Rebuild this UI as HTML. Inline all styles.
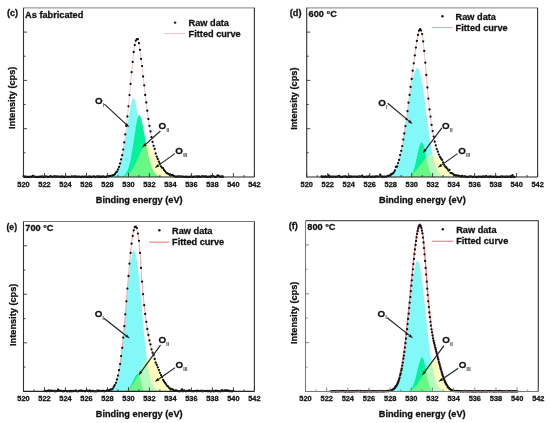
<!DOCTYPE html>
<html><head><meta charset="utf-8"><style>
html,body{margin:0;padding:0;background:#fff;overflow:hidden;width:550px;height:423px;}
svg{display:block;will-change:transform;font-family:"Liberation Sans", sans-serif;}
text{stroke:#111;stroke-width:0.28px;}
</style></head><body>
<svg width="550" height="423" viewBox="0 0 550 423" font-family="Liberation Sans, sans-serif" fill="#111">
<rect x="0" y="0" width="550" height="423" fill="#fff"/>
<path d="M105.0,177.0 L105.0,176.94 L105.5,176.93 L106.0,176.91 L106.5,176.89 L107.0,176.86 L107.5,176.83 L108.0,176.79 L108.5,176.74 L109.0,176.68 L109.5,176.60 L110.0,176.51 L110.5,176.41 L111.0,176.28 L111.5,176.13 L112.0,175.95 L112.5,175.75 L113.0,175.50 L113.5,175.21 L114.0,174.88 L114.5,174.49 L115.0,174.04 L115.5,173.52 L116.0,172.93 L116.5,172.25 L117.0,171.49 L117.5,170.62 L118.0,169.64 L118.5,168.55 L119.0,167.34 L119.5,165.99 L120.0,164.49 L120.5,162.86 L121.0,161.07 L121.5,159.12 L122.0,157.02 L122.5,154.75 L123.0,152.33 L123.5,149.76 L124.0,147.03 L124.5,144.17 L125.0,141.19 L125.5,138.09 L126.0,134.91 L126.5,131.65 L127.0,128.36 L127.5,125.05 L128.0,121.76 L128.5,118.52 L129.0,115.37 L129.5,112.34 L130.0,109.49 L130.5,106.84 L131.0,104.45 L131.5,102.35 L132.0,100.59 L132.5,99.21 L133.0,98.26 L133.5,97.80 L134.0,98.07 L134.5,99.10 L135.0,100.75 L135.5,102.94 L136.0,105.58 L136.5,108.61 L137.0,111.96 L137.5,115.56 L138.0,119.34 L138.5,123.22 L139.0,127.16 L139.5,131.10 L140.0,134.98 L140.5,138.77 L141.0,142.42 L141.5,145.91 L142.0,149.20 L142.5,152.29 L143.0,155.16 L143.5,157.81 L144.0,160.23 L144.5,162.43 L145.0,164.41 L145.5,166.18 L146.0,167.75 L146.5,169.14 L147.0,170.35 L147.5,171.41 L148.0,172.32 L148.5,173.11 L149.0,173.78 L149.5,174.35 L150.0,174.83 L150.5,175.23 L151.0,175.56 L151.5,175.84 L152.0,176.07 L152.5,176.26 L153.0,176.41 L153.5,176.53 L154.0,176.63 L154.5,176.71 L155.0,176.78 L155.5,176.83 L156.0,176.87 L156.5,176.90 L157.0,176.92 L157.5,176.94 L157.5,177.0 Z" fill="rgb(130,248,248)"/>
<path d="M117.5,177.0 L117.5,176.95 L118.0,176.93 L118.5,176.90 L119.0,176.87 L119.5,176.83 L120.0,176.77 L120.5,176.71 L121.0,176.62 L121.5,176.51 L122.0,176.37 L122.5,176.19 L123.0,175.97 L123.5,175.71 L124.0,175.38 L124.5,174.98 L125.0,174.50 L125.5,173.93 L126.0,173.25 L126.5,172.45 L127.0,171.51 L127.5,170.42 L128.0,169.16 L128.5,167.72 L129.0,166.10 L129.5,164.27 L130.0,162.23 L130.5,159.98 L131.0,157.52 L131.5,154.85 L132.0,152.00 L132.5,148.97 L133.0,145.80 L133.5,142.51 L134.0,139.15 L134.5,135.78 L135.0,132.43 L135.5,129.17 L136.0,126.08 L136.5,123.21 L137.0,120.64 L137.5,118.45 L138.0,116.70 L138.5,115.49 L139.0,114.89 L139.5,115.04 L140.0,115.69 L140.5,116.76 L141.0,118.18 L141.5,119.91 L142.0,121.92 L142.5,124.15 L143.0,126.57 L143.5,129.14 L144.0,131.82 L144.5,134.57 L145.0,137.35 L145.5,140.14 L146.0,142.90 L146.5,145.61 L147.0,148.25 L147.5,150.79 L148.0,153.22 L148.5,155.53 L149.0,157.70 L149.5,159.73 L150.0,161.62 L150.5,163.37 L151.0,164.97 L151.5,166.44 L152.0,167.76 L152.5,168.96 L153.0,170.03 L153.5,170.98 L154.0,171.83 L154.5,172.58 L155.0,173.23 L155.5,173.81 L156.0,174.30 L156.5,174.73 L157.0,175.10 L157.5,175.42 L158.0,175.69 L158.5,175.91 L159.0,176.11 L159.5,176.27 L160.0,176.40 L160.5,176.51 L161.0,176.61 L161.5,176.68 L162.0,176.74 L162.5,176.80 L163.0,176.84 L163.5,176.87 L164.0,176.90 L164.5,176.92 L165.0,176.94 L165.0,177.0 Z" fill="rgb(5,242,155)"/>
<path d="M115.0,177.0 L115.0,176.95 L115.5,176.94 L116.0,176.92 L116.5,176.91 L117.0,176.89 L117.5,176.87 L118.0,176.84 L118.5,176.81 L119.0,176.78 L119.5,176.74 L120.0,176.69 L120.5,176.64 L121.0,176.57 L121.5,176.50 L122.0,176.42 L122.5,176.33 L123.0,176.22 L123.5,176.10 L124.0,175.96 L124.5,175.80 L125.0,175.62 L125.5,175.43 L126.0,175.20 L126.5,174.95 L127.0,174.68 L127.5,174.37 L128.0,174.03 L128.5,173.66 L129.0,173.25 L129.5,172.80 L130.0,172.31 L130.5,171.78 L131.0,171.20 L131.5,170.58 L132.0,169.91 L132.5,169.19 L133.0,168.42 L133.5,167.61 L134.0,166.75 L134.5,165.84 L135.0,164.89 L135.5,163.89 L136.0,162.86 L136.5,161.79 L137.0,160.69 L137.5,159.56 L138.0,158.41 L138.5,157.24 L139.0,156.07 L139.5,154.89 L140.0,153.73 L140.5,152.58 L141.0,151.46 L141.5,150.37 L142.0,149.34 L142.5,148.36 L143.0,147.44 L143.5,146.61 L144.0,145.87 L144.5,145.23 L145.0,144.70 L145.5,144.29 L146.0,144.02 L146.5,143.91 L147.0,143.99 L147.5,144.18 L148.0,144.48 L148.5,144.88 L149.0,145.37 L149.5,145.93 L150.0,146.57 L150.5,147.28 L151.0,148.05 L151.5,148.87 L152.0,149.73 L152.5,150.64 L153.0,151.57 L153.5,152.54 L154.0,153.52 L154.5,154.52 L155.0,155.52 L155.5,156.53 L156.0,157.54 L156.5,158.54 L157.0,159.52 L157.5,160.50 L158.0,161.45 L158.5,162.38 L159.0,163.28 L159.5,164.16 L160.0,165.01 L160.5,165.82 L161.0,166.61 L161.5,167.35 L162.0,168.07 L162.5,168.75 L163.0,169.39 L163.5,170.00 L164.0,170.57 L164.5,171.11 L165.0,171.61 L165.5,172.08 L166.0,172.52 L166.5,172.93 L167.0,173.31 L167.5,173.66 L168.0,173.98 L168.5,174.28 L169.0,174.55 L169.5,174.80 L170.0,175.03 L170.5,175.24 L171.0,175.43 L171.5,175.60 L172.0,175.75 L172.5,175.89 L173.0,176.02 L173.5,176.13 L174.0,176.24 L174.5,176.33 L175.0,176.41 L175.5,176.48 L176.0,176.55 L176.5,176.60 L177.0,176.65 L177.5,176.70 L178.0,176.74 L178.5,176.77 L179.0,176.80 L179.5,176.83 L180.0,176.85 L180.5,176.87 L181.0,176.89 L181.5,176.91 L182.0,176.92 L182.5,176.93 L183.0,176.94 L183.0,177.0 Z" fill="rgba(255,255,100,0.4)"/>
<path d="M23.5,177.00 L24.0,177.00 L24.5,177.00 L25.0,177.00 L25.5,177.00 L26.0,177.00 L26.5,177.00 L27.0,177.00 L27.5,177.00 L28.0,177.00 L28.5,177.00 L29.0,177.00 L29.5,177.00 L30.0,177.00 L30.5,177.00 L31.0,177.00 L31.5,177.00 L32.0,177.00 L32.5,177.00 L33.0,177.00 L33.5,177.00 L34.0,177.00 L34.5,177.00 L35.0,177.00 L35.5,177.00 L36.0,177.00 L36.5,177.00 L37.0,177.00 L37.5,177.00 L38.0,177.00 L38.5,177.00 L39.0,177.00 L39.5,177.00 L40.0,177.00 L40.5,177.00 L41.0,177.00 L41.5,177.00 L42.0,177.00 L42.5,177.00 L43.0,177.00 L43.5,177.00 L44.0,177.00 L44.5,177.00 L45.0,177.00 L45.5,177.00 L46.0,177.00 L46.5,177.00 L47.0,177.00 L47.5,177.00 L48.0,177.00 L48.5,177.00 L49.0,177.00 L49.5,177.00 L50.0,177.00 L50.5,177.00 L51.0,177.00 L51.5,177.00 L52.0,177.00 L52.5,177.00 L53.0,177.00 L53.5,177.00 L54.0,177.00 L54.5,177.00 L55.0,177.00 L55.5,177.00 L56.0,177.00 L56.5,177.00 L57.0,177.00 L57.5,177.00 L58.0,177.00 L58.5,177.00 L59.0,177.00 L59.5,177.00 L60.0,177.00 L60.5,177.00 L61.0,177.00 L61.5,177.00 L62.0,177.00 L62.5,177.00 L63.0,177.00 L63.5,177.00 L64.0,177.00 L64.5,177.00 L65.0,177.00 L65.5,177.00 L66.0,177.00 L66.5,177.00 L67.0,177.00 L67.5,177.00 L68.0,177.00 L68.5,177.00 L69.0,177.00 L69.5,177.00 L70.0,177.00 L70.5,177.00 L71.0,177.00 L71.5,177.00 L72.0,177.00 L72.5,177.00 L73.0,177.00 L73.5,177.00 L74.0,177.00 L74.5,177.00 L75.0,177.00 L75.5,177.00 L76.0,177.00 L76.5,177.00 L77.0,177.00 L77.5,177.00 L78.0,177.00 L78.5,177.00 L79.0,177.00 L79.5,177.00 L80.0,177.00 L80.5,177.00 L81.0,177.00 L81.5,177.00 L82.0,177.00 L82.5,177.00 L83.0,177.00 L83.5,177.00 L84.0,177.00 L84.5,177.00 L85.0,177.00 L85.5,177.00 L86.0,177.00 L86.5,177.00 L87.0,177.00 L87.5,177.00 L88.0,177.00 L88.5,177.00 L89.0,177.00 L89.5,177.00 L90.0,177.00 L90.5,177.00 L91.0,177.00 L91.5,177.00 L92.0,177.00 L92.5,177.00 L93.0,177.00 L93.5,177.00 L94.0,177.00 L94.5,177.00 L95.0,177.00 L95.5,177.00 L96.0,177.00 L96.5,177.00 L97.0,177.00 L97.5,177.00 L98.0,177.00 L98.5,177.00 L99.0,177.00 L99.5,177.00 L100.0,177.00 L100.5,176.99 L101.0,176.99 L101.5,176.99 L102.0,176.99 L102.5,176.98 L103.0,176.98 L103.5,176.97 L104.0,176.96 L104.5,176.96 L105.0,176.94 L105.5,176.93 L106.0,176.91 L106.5,176.89 L107.0,176.86 L107.5,176.83 L108.0,176.78 L108.5,176.73 L109.0,176.67 L109.5,176.60 L110.0,176.51 L110.5,176.40 L111.0,176.27 L111.5,176.12 L112.0,175.94 L112.5,175.72 L113.0,175.47 L113.5,175.18 L114.0,174.83 L114.5,174.43 L115.0,173.97 L115.5,173.44 L116.0,172.83 L116.5,172.13 L117.0,171.33 L117.5,170.43 L118.0,169.41 L118.5,168.27 L119.0,166.98 L119.5,165.55 L120.0,163.96 L120.5,162.20 L121.0,160.26 L121.5,158.13 L122.0,155.80 L122.5,153.27 L123.0,150.52 L123.5,147.56 L124.0,144.37 L124.5,140.96 L125.0,137.31 L125.5,133.45 L126.0,129.36 L126.5,125.06 L127.0,120.54 L127.5,115.84 L128.0,110.95 L128.5,105.90 L129.0,100.71 L129.5,95.41 L130.0,90.03 L130.5,84.60 L131.0,79.17 L131.5,73.78 L132.0,68.49 L132.5,63.37 L133.0,58.48 L133.5,53.92 L134.0,49.98 L134.5,46.72 L135.0,44.07 L135.5,42.00 L136.0,40.52 L136.5,39.61 L137.0,39.29 L137.5,39.57 L138.0,40.45 L138.5,41.95 L139.0,44.12 L139.5,47.03 L140.0,50.40 L140.5,54.11 L141.0,58.06 L141.5,62.19 L142.0,66.46 L142.5,70.80 L143.0,75.18 L143.5,79.56 L144.0,83.92 L144.5,88.22 L145.0,92.45 L145.5,96.61 L146.0,100.67 L146.5,104.66 L147.0,108.59 L147.5,112.38 L148.0,116.03 L148.5,119.52 L149.0,122.85 L149.5,126.02 L150.0,129.03 L150.5,131.88 L151.0,134.59 L151.5,137.14 L152.0,139.56 L152.5,141.85 L153.0,144.01 L153.5,146.06 L154.0,147.99 L154.5,149.81 L155.0,151.54 L155.5,153.17 L156.0,154.71 L156.5,156.17 L157.0,157.55 L157.5,158.86 L158.0,160.09 L158.5,161.26 L159.0,162.37 L159.5,163.41 L160.0,164.40 L160.5,165.33 L161.0,166.20 L161.5,167.03 L162.0,167.81 L162.5,168.54 L163.0,169.22 L163.5,169.87 L164.0,170.47 L164.5,171.03 L165.0,171.55 L165.5,172.03 L166.0,172.48 L166.5,172.90 L167.0,173.29 L167.5,173.64 L168.0,173.97 L168.5,174.27 L169.0,174.54 L169.5,174.80 L170.0,175.03 L170.5,175.23 L171.0,175.42 L171.5,175.60 L172.0,175.75 L172.5,175.89 L173.0,176.02 L173.5,176.13 L174.0,176.24 L174.5,176.33 L175.0,176.41 L175.5,176.48 L176.0,176.55 L176.5,176.60 L177.0,176.65 L177.5,176.70 L178.0,176.74 L178.5,176.77 L179.0,176.80 L179.5,176.83 L180.0,176.85 L180.5,176.87 L181.0,176.89 L181.5,176.91 L182.0,176.92 L182.5,176.93 L183.0,176.94 L183.5,176.95 L184.0,176.96 L184.5,176.96 L185.0,176.97 L185.5,176.97 L186.0,176.98 L186.5,176.98 L187.0,176.98 L187.5,176.99 L188.0,176.99 L188.5,176.99 L189.0,176.99 L189.5,176.99 L190.0,176.99 L190.5,177.00 L191.0,177.00 L191.5,177.00 L192.0,177.00 L192.5,177.00 L193.0,177.00 L193.5,177.00 L194.0,177.00 L194.5,177.00 L195.0,177.00 L195.5,177.00 L196.0,177.00 L196.5,177.00 L197.0,177.00 L197.5,177.00 L198.0,177.00 L198.5,177.00 L199.0,177.00 L199.5,177.00 L200.0,177.00 L200.5,177.00 L201.0,177.00 L201.5,177.00 L202.0,177.00 L202.5,177.00 L203.0,177.00 L203.5,177.00 L204.0,177.00 L204.5,177.00 L205.0,177.00 L205.5,177.00 L206.0,177.00 L206.5,177.00 L207.0,177.00 L207.5,177.00 L208.0,177.00 L208.5,177.00 L209.0,177.00 L209.5,177.00 L210.0,177.00 L210.5,177.00 L211.0,177.00 L211.5,177.00 L212.0,177.00 L212.5,177.00 L213.0,177.00 L213.5,177.00 L214.0,177.00 L214.5,177.00 L215.0,177.00 L215.5,177.00 L216.0,177.00 L216.5,177.00 L217.0,177.00 L217.5,177.00 L218.0,177.00 L218.5,177.00 L219.0,177.00 L219.5,177.00 L220.0,177.00 L220.5,177.00 L221.0,177.00 L221.5,177.00 L222.0,177.00 L222.5,177.00 L223.0,177.00 L223.5,177.00" fill="none" stroke="#f0b8b8" stroke-width="0.8"/>
<path d="M23.5 176.2h0M24.5 177.0h0M25.6 176.7h0M26.6 177.0h0M27.7 176.9h0M28.7 176.9h0M29.8 177.0h0M30.8 176.7h0M31.9 177.0h0M32.9 175.8h0M34.0 176.7h0M35.0 176.9h0M36.1 176.9h0M37.1 177.0h0M38.2 177.0h0M39.2 176.9h0M40.3 176.7h0M41.3 176.9h0M42.4 176.5h0M43.4 176.9h0M44.5 176.8h0M45.5 176.3h0M46.6 176.6h0M47.6 177.0h0M48.7 176.9h0M49.7 176.6h0M50.8 176.2h0M51.8 176.9h0M52.9 176.9h0M53.9 176.5h0M55.0 176.5h0M56.0 176.9h0M57.1 176.5h0M58.1 176.6h0M59.2 176.8h0M60.2 176.6h0M61.3 177.0h0M62.3 176.5h0M63.4 177.0h0M64.4 177.0h0M65.5 176.7h0M66.5 176.6h0M67.6 176.9h0M68.6 177.0h0M69.7 176.8h0M70.7 176.8h0M71.8 176.4h0M72.8 176.6h0M73.9 176.7h0M74.9 176.5h0M76.0 176.9h0M77.0 177.0h0M78.1 176.6h0M79.1 176.6h0M80.2 176.9h0M81.2 177.0h0M82.3 176.7h0M83.3 177.0h0M84.4 176.6h0M85.4 176.7h0M86.5 177.0h0M87.5 176.8h0M88.6 177.0h0M89.6 176.5h0M90.7 177.0h0M91.7 177.0h0M92.8 176.6h0M93.8 176.5h0M94.9 177.0h0M95.9 176.9h0M97.0 176.7h0M98.0 177.0h0M99.1 176.3h0M100.1 177.0h0M101.2 176.7h0M102.2 177.0h0M103.3 176.4h0M104.3 176.8h0M105.4 176.8h0M106.4 177.0h0M107.5 176.1h0M108.5 176.3h0M109.6 176.2h0M110.6 175.8h0M111.7 175.8h0M112.7 175.3h0M113.8 175.0h0M114.8 174.2h0M115.9 172.4h0M116.9 171.7h0M118.0 169.5h0M119.0 166.9h0M120.1 163.5h0M121.1 159.4h0M122.2 155.2h0M123.2 149.6h0M124.3 142.4h0M125.3 134.4h0M126.4 125.9h0M127.4 116.5h0M128.5 106.3h0M129.5 95.1h0M130.6 83.9h0M131.6 72.2h0M132.7 61.9h0M133.7 52.0h0M134.8 45.1h0M135.8 40.7h0M136.9 39.1h0M137.9 39.2h0M139.0 43.2h0M140.0 49.8h0M141.0 58.9h0M142.1 66.1h0M143.1 76.5h0M144.2 85.3h0M145.2 95.0h0M146.3 102.5h0M147.3 110.7h0M148.4 119.0h0M149.4 125.8h0M150.5 131.4h0M151.5 137.2h0M152.6 141.9h0M153.6 145.8h0M154.7 148.9h0M155.7 153.5h0M156.8 156.7h0M157.8 159.0h0M158.9 161.7h0M159.9 163.7h0M161.0 166.3h0M162.0 167.7h0M163.1 168.1h0M164.1 170.0h0M165.2 171.3h0M166.2 172.6h0M167.3 173.4h0M168.3 173.8h0M169.4 174.4h0M170.4 175.3h0M171.5 175.2h0M172.5 175.0h0M173.6 176.0h0M174.6 176.3h0M175.7 176.7h0M176.7 176.8h0M177.8 176.4h0M178.8 176.3h0M179.9 176.6h0M180.9 176.6h0M182.0 176.7h0M183.0 176.7h0M184.1 177.0h0M185.1 176.9h0M186.2 176.7h0M187.2 177.0h0M188.3 176.9h0M189.3 177.0h0M190.4 176.9h0M191.4 176.5h0M192.5 176.9h0M193.5 176.8h0M194.6 176.6h0M195.6 176.6h0M196.7 176.3h0M197.7 177.0h0M198.8 176.5h0M199.8 176.9h0M200.9 176.8h0M201.9 176.5h0M203.0 176.5h0M204.0 176.5h0M205.1 176.8h0M206.1 176.3h0M207.2 176.9h0M208.2 176.8h0M209.3 176.6h0M210.3 177.0h0M211.4 176.2h0M212.4 176.5h0M213.5 176.1h0M214.5 176.8h0M215.6 176.9h0M216.6 176.7h0M217.7 175.3h0M218.7 175.9h0M219.8 176.7h0M220.8 176.8h0M221.9 176.3h0M222.9 177.0h0" stroke="#111" stroke-width="2.3" stroke-linecap="round" fill="none"/>
<line x1="23.5" y1="7.8" x2="254.4" y2="7.8" stroke="#9a9a9a" stroke-width="1.2"/>
<line x1="254.4" y1="7.8" x2="254.4" y2="177.0" stroke="#333" stroke-width="1.1"/>
<line x1="23.5" y1="7.8" x2="23.5" y2="177.5" stroke="#333" stroke-width="1.1"/>
<line x1="23.5" y1="177.0" x2="254.4" y2="177.0" stroke="#222" stroke-width="1.2"/>
<path d="M23.5 177.0v-4.0M34.0 177.0v-2.0M44.5 177.0v-4.0M55.0 177.0v-2.0M65.5 177.0v-4.0M76.0 177.0v-2.0M86.5 177.0v-4.0M97.0 177.0v-2.0M107.5 177.0v-4.0M118.0 177.0v-2.0M128.5 177.0v-4.0M138.9 177.0v-2.0M149.4 177.0v-4.0M159.9 177.0v-2.0M170.4 177.0v-4.0M180.9 177.0v-2.0M191.4 177.0v-4.0M201.9 177.0v-2.0M212.4 177.0v-4.0M222.9 177.0v-2.0M233.4 177.0v-4.0M243.9 177.0v-2.0M254.4 177.0v-4.0M23.5 152.8h2.0M23.5 128.7h3.5M23.5 104.5h2.0M23.5 80.4h3.5M23.5 56.2h2.0M23.5 32.1h3.5" stroke="#333" stroke-width="0.9" fill="none"/>
<text x="23.5" y="186.8" font-size="7.4" font-weight="bold" text-anchor="middle">520</text>
<text x="44.5" y="186.8" font-size="7.4" font-weight="bold" text-anchor="middle">522</text>
<text x="65.5" y="186.8" font-size="7.4" font-weight="bold" text-anchor="middle">524</text>
<text x="86.5" y="186.8" font-size="7.4" font-weight="bold" text-anchor="middle">526</text>
<text x="107.5" y="186.8" font-size="7.4" font-weight="bold" text-anchor="middle">528</text>
<text x="128.5" y="186.8" font-size="7.4" font-weight="bold" text-anchor="middle">530</text>
<text x="149.4" y="186.8" font-size="7.4" font-weight="bold" text-anchor="middle">532</text>
<text x="170.4" y="186.8" font-size="7.4" font-weight="bold" text-anchor="middle">534</text>
<text x="191.4" y="186.8" font-size="7.4" font-weight="bold" text-anchor="middle">536</text>
<text x="212.4" y="186.8" font-size="7.4" font-weight="bold" text-anchor="middle">538</text>
<text x="233.4" y="186.8" font-size="7.4" font-weight="bold" text-anchor="middle">540</text>
<text x="254.4" y="186.8" font-size="7.4" font-weight="bold" text-anchor="middle">542</text>
<text x="139.2" y="202.9" font-size="9.2" font-weight="bold" text-anchor="middle">Binding energy (eV)</text>
<text transform="translate(15.0 97.8) rotate(-90)" font-size="9.2" font-weight="bold" text-anchor="middle">Intensity (cps)</text>
<text x="6.9" y="16.0" font-size="9.2" font-weight="bold">(c)</text>
<text x="25.1" y="17.5" font-size="9.2" font-weight="bold">As fabricated</text>
<circle cx="175.1" cy="22.6" r="1.2" fill="#111"/>
<text x="188.6" y="25.5" font-size="9.2" font-weight="bold">Raw data</text>
<line x1="164.4" y1="33.6" x2="185.3" y2="33.6" stroke="#f0b8b8" stroke-width="0.9"/>
<text x="188.6" y="36.9" font-size="9.2" font-weight="bold">Fitted curve</text>
<text x="94.9" y="103.7" font-size="9.8" font-weight="bold">O</text>
<text x="102.8" y="106.6" font-size="4.8" font-weight="bold" fill="#666" style="stroke:#666;stroke-width:0.2px">I</text>
<line x1="104.4" y1="104.2" x2="125.9" y2="124.1" stroke="#222" stroke-width="1.15"/>
<path d="M129.3,127.2 L124.9,125.2 L126.9,123.0 Z" fill="#111"/>
<text x="158.5" y="128.6" font-size="9.8" font-weight="bold">O</text>
<text x="166.4" y="131.5" font-size="4.8" font-weight="bold" fill="#666" style="stroke:#666;stroke-width:0.2px">II</text>
<line x1="160.4" y1="131.0" x2="145.5" y2="144.4" stroke="#222" stroke-width="1.15"/>
<path d="M142.1,147.5 L144.5,143.3 L146.5,145.5 Z" fill="#111"/>
<text x="175.3" y="154.2" font-size="9.8" font-weight="bold">O</text>
<text x="183.2" y="157.1" font-size="4.8" font-weight="bold" fill="#666" style="stroke:#666;stroke-width:0.2px">III</text>
<line x1="174.9" y1="153.6" x2="158.4" y2="165.4" stroke="#222" stroke-width="1.15"/>
<path d="M154.7,168.1 L157.6,164.2 L159.3,166.6 Z" fill="#111"/>
<path d="M381.2,177.0 L381.2,176.95 L381.7,176.94 L382.2,176.92 L382.7,176.90 L383.2,176.88 L383.7,176.85 L384.2,176.82 L384.7,176.78 L385.2,176.74 L385.7,176.68 L386.2,176.61 L386.7,176.54 L387.2,176.44 L387.7,176.33 L388.2,176.21 L388.7,176.06 L389.2,175.88 L389.7,175.68 L390.2,175.44 L390.7,175.17 L391.2,174.86 L391.7,174.51 L392.2,174.10 L392.7,173.64 L393.2,173.12 L393.7,172.53 L394.2,171.87 L394.7,171.13 L395.2,170.30 L395.7,169.38 L396.2,168.36 L396.7,167.24 L397.2,166.00 L397.7,164.65 L398.2,163.17 L398.7,161.56 L399.2,159.82 L399.7,157.94 L400.2,155.92 L400.7,153.76 L401.2,151.45 L401.7,149.00 L402.2,146.42 L402.7,143.69 L403.2,140.83 L403.7,137.85 L404.2,134.75 L404.7,131.55 L405.2,128.24 L405.7,124.86 L406.2,121.41 L406.7,117.90 L407.2,114.37 L407.7,110.82 L408.2,107.27 L408.7,103.76 L409.2,100.29 L409.7,96.90 L410.2,93.60 L410.7,90.42 L411.2,87.38 L411.7,84.50 L412.2,81.80 L412.7,79.30 L413.2,77.02 L413.7,74.98 L414.2,73.19 L414.7,71.66 L415.2,70.40 L415.7,69.41 L416.2,68.71 L416.7,68.29 L417.2,68.13 L417.7,68.24 L418.2,68.68 L418.7,69.45 L419.2,70.56 L419.7,72.01 L420.2,73.77 L420.7,75.85 L421.2,78.23 L421.7,80.88 L422.2,83.78 L422.7,86.91 L423.2,90.23 L423.7,93.73 L424.2,97.37 L424.7,101.12 L425.2,104.95 L425.7,108.83 L426.2,112.73 L426.7,116.63 L427.2,120.49 L427.7,124.30 L428.2,128.04 L428.7,131.67 L429.2,135.19 L429.7,138.57 L430.2,141.81 L430.7,144.90 L431.2,147.82 L431.7,150.58 L432.2,153.16 L432.7,155.57 L433.2,157.81 L433.7,159.88 L434.2,161.78 L434.7,163.53 L435.2,165.11 L435.7,166.55 L436.2,167.85 L436.7,169.02 L437.2,170.07 L437.7,171.00 L438.2,171.82 L438.7,172.55 L439.2,173.19 L439.7,173.75 L440.2,174.24 L440.7,174.67 L441.2,175.03 L441.7,175.35 L442.2,175.62 L442.7,175.85 L443.2,176.04 L443.7,176.21 L444.2,176.35 L444.7,176.47 L445.2,176.56 L445.7,176.64 L446.2,176.71 L446.7,176.77 L447.2,176.81 L447.7,176.85 L448.2,176.88 L448.7,176.90 L449.2,176.92 L449.7,176.94 L449.7,177.0 Z" fill="rgb(130,248,248)"/>
<path d="M406.2,177.0 L406.2,176.93 L406.7,176.90 L407.2,176.85 L407.7,176.78 L408.2,176.69 L408.7,176.56 L409.2,176.38 L409.7,176.14 L410.2,175.83 L410.7,175.43 L411.2,174.91 L411.7,174.27 L412.2,173.48 L412.7,172.52 L413.2,171.38 L413.7,170.04 L414.2,168.51 L414.7,166.77 L415.2,164.85 L415.7,162.76 L416.2,160.53 L416.7,158.21 L417.2,155.84 L417.7,153.49 L418.2,151.22 L418.7,149.09 L419.2,147.17 L419.7,145.53 L420.2,144.21 L420.7,143.26 L421.2,142.69 L421.7,142.51 L422.2,142.72 L422.7,143.35 L423.2,144.41 L423.7,145.86 L424.2,147.66 L424.7,149.74 L425.2,152.03 L425.7,154.45 L426.2,156.94 L426.7,159.40 L427.2,161.79 L427.7,164.05 L428.2,166.13 L428.7,168.02 L429.2,169.68 L429.7,171.13 L430.2,172.36 L430.7,173.39 L431.2,174.23 L431.7,174.91 L432.2,175.45 L432.7,175.86 L433.2,176.18 L433.7,176.42 L434.2,176.59 L434.7,176.72 L435.2,176.81 L435.7,176.87 L436.2,176.92 L436.7,176.95 L436.7,177.0 Z" fill="rgb(5,242,155)"/>
<path d="M397.2,177.0 L397.2,176.95 L397.7,176.94 L398.2,176.92 L398.7,176.91 L399.2,176.89 L399.7,176.87 L400.2,176.85 L400.7,176.83 L401.2,176.80 L401.7,176.76 L402.2,176.72 L402.7,176.68 L403.2,176.62 L403.7,176.57 L404.2,176.50 L404.7,176.42 L405.2,176.34 L405.7,176.25 L406.2,176.14 L406.7,176.02 L407.2,175.89 L407.7,175.74 L408.2,175.58 L408.7,175.40 L409.2,175.21 L409.7,174.99 L410.2,174.76 L410.7,174.50 L411.2,174.23 L411.7,173.93 L412.2,173.61 L412.7,173.26 L413.2,172.89 L413.7,172.49 L414.2,172.07 L414.7,171.63 L415.2,171.16 L415.7,170.66 L416.2,170.15 L416.7,169.60 L417.2,169.04 L417.7,168.45 L418.2,167.85 L418.7,167.23 L419.2,166.59 L419.7,165.94 L420.2,165.28 L420.7,164.61 L421.2,163.93 L421.7,163.26 L422.2,162.59 L422.7,161.92 L423.2,161.26 L423.7,160.61 L424.2,159.98 L424.7,159.37 L425.2,158.78 L425.7,158.21 L426.2,157.68 L426.7,157.19 L427.2,156.72 L427.7,156.30 L428.2,155.92 L428.7,155.59 L429.2,155.30 L429.7,155.05 L430.2,154.86 L430.7,154.71 L431.2,154.62 L431.7,154.57 L432.2,154.57 L432.7,154.61 L433.2,154.70 L433.7,154.84 L434.2,155.02 L434.7,155.25 L435.2,155.54 L435.7,155.86 L436.2,156.23 L436.7,156.65 L437.2,157.10 L437.7,157.59 L438.2,158.11 L438.7,158.66 L439.2,159.25 L439.7,159.85 L440.2,160.47 L440.7,161.12 L441.2,161.77 L441.7,162.43 L442.2,163.10 L442.7,163.77 L443.2,164.45 L443.7,165.11 L444.2,165.77 L444.7,166.42 L445.2,167.06 L445.7,167.68 L446.2,168.29 L446.7,168.88 L447.2,169.45 L447.7,169.99 L448.2,170.51 L448.7,171.01 L449.2,171.49 L449.7,171.94 L450.2,172.37 L450.7,172.77 L451.2,173.14 L451.7,173.49 L452.2,173.82 L452.7,174.13 L453.2,174.41 L453.7,174.67 L454.2,174.91 L454.7,175.13 L455.2,175.33 L455.7,175.52 L456.2,175.68 L456.7,175.83 L457.2,175.97 L457.7,176.09 L458.2,176.20 L458.7,176.30 L459.2,176.39 L459.7,176.47 L460.2,176.54 L460.7,176.60 L461.2,176.66 L461.7,176.70 L462.2,176.74 L462.7,176.78 L463.2,176.81 L463.7,176.84 L464.2,176.86 L464.7,176.88 L465.2,176.90 L465.7,176.92 L466.2,176.93 L466.7,176.94 L466.7,177.0 Z" fill="rgba(255,255,100,0.4)"/>
<path d="M320.7,177.00 L321.2,177.00 L321.7,177.00 L322.2,177.00 L322.7,177.00 L323.2,177.00 L323.7,177.00 L324.2,177.00 L324.7,177.00 L325.2,177.00 L325.7,177.00 L326.2,177.00 L326.7,177.00 L327.2,177.00 L327.7,177.00 L328.2,177.00 L328.7,177.00 L329.2,177.00 L329.7,177.00 L330.2,177.00 L330.7,177.00 L331.2,177.00 L331.7,177.00 L332.2,177.00 L332.7,177.00 L333.2,177.00 L333.7,177.00 L334.2,177.00 L334.7,177.00 L335.2,177.00 L335.7,177.00 L336.2,177.00 L336.7,177.00 L337.2,177.00 L337.7,177.00 L338.2,177.00 L338.7,177.00 L339.2,177.00 L339.7,177.00 L340.2,177.00 L340.7,177.00 L341.2,177.00 L341.7,177.00 L342.2,177.00 L342.7,177.00 L343.2,177.00 L343.7,177.00 L344.2,177.00 L344.7,177.00 L345.2,177.00 L345.7,177.00 L346.2,177.00 L346.7,177.00 L347.2,177.00 L347.7,177.00 L348.2,177.00 L348.7,177.00 L349.2,177.00 L349.7,177.00 L350.2,177.00 L350.7,177.00 L351.2,177.00 L351.7,177.00 L352.2,177.00 L352.7,177.00 L353.2,177.00 L353.7,177.00 L354.2,177.00 L354.7,177.00 L355.2,177.00 L355.7,177.00 L356.2,177.00 L356.7,177.00 L357.2,177.00 L357.7,177.00 L358.2,177.00 L358.7,177.00 L359.2,177.00 L359.7,177.00 L360.2,177.00 L360.7,177.00 L361.2,177.00 L361.7,177.00 L362.2,177.00 L362.7,177.00 L363.2,177.00 L363.7,177.00 L364.2,177.00 L364.7,177.00 L365.2,177.00 L365.7,177.00 L366.2,177.00 L366.7,177.00 L367.2,177.00 L367.7,177.00 L368.2,177.00 L368.7,177.00 L369.2,177.00 L369.7,177.00 L370.2,177.00 L370.7,177.00 L371.2,177.00 L371.7,177.00 L372.2,177.00 L372.7,177.00 L373.2,177.00 L373.7,177.00 L374.2,177.00 L374.7,177.00 L375.2,177.00 L375.7,177.00 L376.2,177.00 L376.7,176.99 L377.2,176.99 L377.7,176.99 L378.2,176.99 L378.7,176.98 L379.2,176.98 L379.7,176.97 L380.2,176.97 L380.7,176.96 L381.2,176.95 L381.7,176.94 L382.2,176.92 L382.7,176.90 L383.2,176.88 L383.7,176.85 L384.2,176.82 L384.7,176.78 L385.2,176.74 L385.7,176.68 L386.2,176.61 L386.7,176.54 L387.2,176.44 L387.7,176.33 L388.2,176.20 L388.7,176.05 L389.2,175.88 L389.7,175.68 L390.2,175.44 L390.7,175.17 L391.2,174.86 L391.7,174.50 L392.2,174.09 L392.7,173.63 L393.2,173.11 L393.7,172.52 L394.2,171.85 L394.7,171.11 L395.2,170.28 L395.7,169.35 L396.2,168.33 L396.7,167.19 L397.2,165.95 L397.7,164.58 L398.2,163.09 L398.7,161.47 L399.2,159.71 L399.7,157.81 L400.2,155.77 L400.7,153.58 L401.2,151.25 L401.7,148.76 L402.2,146.14 L402.7,143.37 L403.2,140.46 L403.7,137.41 L404.2,134.24 L404.7,130.95 L405.2,127.56 L405.7,124.06 L406.2,120.48 L406.7,116.82 L407.2,113.11 L407.7,109.34 L408.2,105.54 L408.7,101.72 L409.2,97.88 L409.7,94.03 L410.2,90.19 L410.7,86.35 L411.2,82.52 L411.7,78.69 L412.2,74.88 L412.7,71.08 L413.2,67.29 L413.7,63.52 L414.2,59.77 L414.7,56.06 L415.2,52.41 L415.7,48.84 L416.2,45.39 L416.7,42.10 L417.2,39.01 L417.7,36.19 L418.2,33.75 L418.7,31.77 L419.2,30.33 L419.7,29.48 L420.2,29.26 L420.7,29.72 L421.2,30.86 L421.7,32.65 L422.2,35.08 L422.7,38.18 L423.2,41.90 L423.7,46.20 L424.2,51.00 L424.7,56.22 L425.2,61.75 L425.7,67.50 L426.2,73.35 L426.7,79.22 L427.2,85.01 L427.7,90.65 L428.2,96.09 L428.7,101.27 L429.2,106.17 L429.7,110.76 L430.2,115.03 L430.7,119.00 L431.2,122.67 L431.7,126.06 L432.2,129.18 L432.7,132.05 L433.2,134.69 L433.7,137.13 L434.2,139.40 L434.7,141.50 L435.2,143.46 L435.7,145.29 L436.2,147.00 L436.7,148.61 L437.2,150.13 L437.7,151.56 L438.2,152.92 L438.7,154.21 L439.2,155.43 L439.7,156.60 L440.2,157.72 L440.7,158.78 L441.2,159.80 L441.7,160.78 L442.2,161.72 L442.7,162.62 L443.2,163.49 L443.7,164.32 L444.2,165.12 L444.7,165.89 L445.2,166.62 L445.7,167.33 L446.2,168.00 L446.7,168.64 L447.2,169.26 L447.7,169.84 L448.2,170.39 L448.7,170.92 L449.2,171.41 L449.7,171.88 L450.2,172.32 L450.7,172.73 L451.2,173.11 L451.7,173.47 L452.2,173.81 L452.7,174.11 L453.2,174.40 L453.7,174.66 L454.2,174.91 L454.7,175.13 L455.2,175.33 L455.7,175.51 L456.2,175.68 L456.7,175.83 L457.2,175.97 L457.7,176.09 L458.2,176.20 L458.7,176.30 L459.2,176.39 L459.7,176.47 L460.2,176.54 L460.7,176.60 L461.2,176.65 L461.7,176.70 L462.2,176.74 L462.7,176.78 L463.2,176.81 L463.7,176.84 L464.2,176.86 L464.7,176.88 L465.2,176.90 L465.7,176.92 L466.2,176.93 L466.7,176.94 L467.2,176.95 L467.7,176.96 L468.2,176.97 L468.7,176.97 L469.2,176.98 L469.7,176.98 L470.2,176.98 L470.7,176.99 L471.2,176.99 L471.7,176.99 L472.2,176.99 L472.7,176.99 L473.2,177.00 L473.7,177.00 L474.2,177.00 L474.7,177.00 L475.2,177.00 L475.7,177.00 L476.2,177.00 L476.7,177.00 L477.2,177.00 L477.7,177.00 L478.2,177.00 L478.7,177.00 L479.2,177.00 L479.7,177.00 L480.2,177.00 L480.7,177.00 L481.2,177.00 L481.7,177.00 L482.2,177.00 L482.7,177.00 L483.2,177.00 L483.7,177.00 L484.2,177.00 L484.7,177.00 L485.2,177.00 L485.7,177.00 L486.2,177.00 L486.7,177.00 L487.2,177.00 L487.7,177.00 L488.2,177.00 L488.7,177.00 L489.2,177.00 L489.7,177.00 L490.2,177.00 L490.7,177.00 L491.2,177.00 L491.7,177.00 L492.2,177.00 L492.7,177.00 L493.2,177.00 L493.7,177.00 L494.2,177.00 L494.7,177.00 L495.2,177.00 L495.7,177.00 L496.2,177.00 L496.7,177.00 L497.2,177.00 L497.7,177.00 L498.2,177.00 L498.7,177.00 L499.2,177.00 L499.7,177.00 L500.2,177.00 L500.7,177.00 L501.2,177.00 L501.7,177.00 L502.2,177.00 L502.7,177.00 L503.2,177.00 L503.7,177.00 L504.2,177.00 L504.7,177.00 L505.2,177.00 L505.7,177.00 L506.2,177.00 L506.7,177.00 L507.2,177.00 L507.7,177.00 L508.2,177.00 L508.7,177.00 L509.2,177.00 L509.7,177.00 L510.2,177.00 L510.7,177.00 L511.2,177.00 L511.7,177.00 L512.2,177.00 L512.7,177.00 L513.2,177.00 L513.7,177.00 L514.2,177.00 L514.7,177.00 L515.2,177.00" fill="none" stroke="#f0a8a8" stroke-width="0.8"/>
<path d="M321.4 176.5h0M322.4 177.0h0M323.5 176.7h0M324.5 177.0h0M325.6 176.5h0M326.6 176.9h0M327.7 176.9h0M328.7 175.4h0M329.8 177.0h0M330.8 176.7h0M331.9 176.6h0M332.9 176.7h0M334.0 176.7h0M335.0 177.0h0M336.1 176.6h0M337.1 176.9h0M338.2 176.4h0M339.2 176.0h0M340.3 177.0h0M341.3 177.0h0M342.4 176.9h0M343.4 176.7h0M344.5 176.5h0M345.5 176.5h0M346.6 177.0h0M347.6 177.0h0M348.7 176.4h0M349.7 177.0h0M350.8 176.5h0M351.8 176.9h0M352.9 176.6h0M353.9 176.6h0M355.0 176.6h0M356.0 176.6h0M357.1 177.0h0M358.1 176.7h0M359.2 176.8h0M360.2 176.7h0M361.3 176.4h0M362.3 175.7h0M363.4 177.0h0M364.4 177.0h0M365.5 176.9h0M366.5 176.6h0M367.6 177.0h0M368.6 176.5h0M369.7 176.7h0M370.7 176.9h0M371.8 177.0h0M372.8 176.7h0M373.9 176.6h0M374.9 177.0h0M376.0 176.4h0M377.0 176.3h0M378.1 176.7h0M379.1 176.6h0M380.2 174.7h0M381.2 176.4h0M382.3 177.0h0M383.3 176.7h0M384.4 176.7h0M385.4 176.6h0M386.5 176.6h0M387.5 175.9h0M388.6 176.1h0M389.6 175.5h0M390.7 175.0h0M391.7 174.0h0M392.8 173.5h0M393.8 172.4h0M394.9 170.5h0M395.9 167.0h0M397.0 166.5h0M398.0 163.1h0M399.1 159.9h0M400.1 155.1h0M401.2 150.8h0M402.2 146.1h0M403.3 139.6h0M404.3 133.5h0M405.4 126.1h0M406.4 119.1h0M407.5 111.2h0M408.5 102.7h0M409.6 94.9h0M410.6 86.9h0M411.7 79.0h0M412.7 70.7h0M413.8 63.3h0M414.8 55.4h0M415.9 47.6h0M416.9 40.9h0M418.0 34.9h0M419.0 30.7h0M420.1 29.1h0M421.1 30.4h0M422.2 34.1h0M423.2 41.4h0M424.2 50.9h0M425.3 62.7h0M426.3 75.0h0M427.4 87.5h0M428.4 98.6h0M429.5 109.4h0M430.5 116.6h0M431.6 124.9h0M432.6 131.1h0M433.7 136.6h0M434.7 141.7h0M435.8 145.3h0M436.8 149.1h0M437.9 151.7h0M438.9 154.6h0M440.0 156.8h0M441.0 158.5h0M442.1 159.9h0M443.1 162.5h0M444.2 164.9h0M445.2 166.6h0M446.3 167.5h0M447.3 168.7h0M448.4 170.6h0M449.4 170.0h0M450.5 172.8h0M451.5 173.2h0M452.6 173.6h0M453.6 174.5h0M454.7 175.1h0M455.7 175.7h0M456.8 175.5h0M457.8 175.7h0M458.9 176.0h0M459.9 176.2h0M461.0 176.8h0M462.0 176.0h0M463.1 176.6h0M464.1 176.7h0M465.2 176.5h0M466.2 177.0h0M467.3 176.8h0M468.3 176.8h0M469.4 176.7h0M470.4 176.4h0M471.5 176.6h0M472.5 177.0h0M473.6 176.9h0M474.6 176.7h0M475.7 176.8h0M476.7 177.0h0M477.8 177.0h0M478.8 176.6h0M479.9 176.7h0M480.9 176.8h0M482.0 177.0h0M483.0 176.3h0M484.1 177.0h0M485.1 176.9h0M486.2 176.2h0M487.2 176.8h0M488.3 176.7h0M489.3 177.0h0M490.4 176.4h0M491.4 177.0h0M492.5 176.7h0M493.5 176.8h0M494.6 177.0h0M495.6 176.5h0M496.7 177.0h0M497.7 177.0h0M498.8 176.8h0M499.8 176.9h0M500.9 176.7h0M501.9 176.5h0M503.0 176.9h0M504.0 176.7h0M505.1 177.0h0M506.1 176.9h0M507.2 176.6h0M508.2 176.9h0M509.3 176.7h0M510.3 176.5h0M511.4 177.0h0M512.4 175.2h0M513.5 177.0h0M514.5 176.8h0" stroke="#111" stroke-width="2.3" stroke-linecap="round" fill="none"/>
<line x1="306.7" y1="7.8" x2="537.6" y2="7.8" stroke="#9a9a9a" stroke-width="1.2"/>
<line x1="537.6" y1="7.8" x2="537.6" y2="177.0" stroke="#333" stroke-width="1.1"/>
<line x1="306.7" y1="7.8" x2="306.7" y2="177.5" stroke="#333" stroke-width="1.1"/>
<line x1="306.7" y1="177.0" x2="537.6" y2="177.0" stroke="#222" stroke-width="1.2"/>
<path d="M306.7 177.0v-4.0M317.2 177.0v-2.0M327.7 177.0v-4.0M338.2 177.0v-2.0M348.7 177.0v-4.0M359.2 177.0v-2.0M369.7 177.0v-4.0M380.2 177.0v-2.0M390.7 177.0v-4.0M401.2 177.0v-2.0M411.7 177.0v-4.0M422.2 177.0v-2.0M432.6 177.0v-4.0M443.1 177.0v-2.0M453.6 177.0v-4.0M464.1 177.0v-2.0M474.6 177.0v-4.0M485.1 177.0v-2.0M495.6 177.0v-4.0M506.1 177.0v-2.0M516.6 177.0v-4.0M527.1 177.0v-2.0M537.6 177.0v-4.0M306.7 152.8h2.0M306.7 128.7h3.5M306.7 104.5h2.0M306.7 80.4h3.5M306.7 56.2h2.0M306.7 32.1h3.5" stroke="#333" stroke-width="0.9" fill="none"/>
<text x="306.7" y="186.8" font-size="7.4" font-weight="bold" text-anchor="middle">520</text>
<text x="327.7" y="186.8" font-size="7.4" font-weight="bold" text-anchor="middle">522</text>
<text x="348.7" y="186.8" font-size="7.4" font-weight="bold" text-anchor="middle">524</text>
<text x="369.7" y="186.8" font-size="7.4" font-weight="bold" text-anchor="middle">526</text>
<text x="390.7" y="186.8" font-size="7.4" font-weight="bold" text-anchor="middle">528</text>
<text x="411.7" y="186.8" font-size="7.4" font-weight="bold" text-anchor="middle">530</text>
<text x="432.6" y="186.8" font-size="7.4" font-weight="bold" text-anchor="middle">532</text>
<text x="453.6" y="186.8" font-size="7.4" font-weight="bold" text-anchor="middle">534</text>
<text x="474.6" y="186.8" font-size="7.4" font-weight="bold" text-anchor="middle">536</text>
<text x="495.6" y="186.8" font-size="7.4" font-weight="bold" text-anchor="middle">538</text>
<text x="516.6" y="186.8" font-size="7.4" font-weight="bold" text-anchor="middle">540</text>
<text x="537.6" y="186.8" font-size="7.4" font-weight="bold" text-anchor="middle">542</text>
<text x="422.4" y="202.9" font-size="9.2" font-weight="bold" text-anchor="middle">Binding energy (eV)</text>
<text transform="translate(297.0 98.7) rotate(-90)" font-size="9.2" font-weight="bold" text-anchor="middle">Intensity (cps)</text>
<text x="289.8" y="16.0" font-size="9.2" font-weight="bold">(d)</text>
<text x="308.6" y="16.9" font-size="9.2" font-weight="bold">600 °C</text>
<circle cx="442.5" cy="16.3" r="1.2" fill="#111"/>
<text x="455.6" y="20.0" font-size="9.2" font-weight="bold">Raw data</text>
<line x1="432.0" y1="27.5" x2="452.7" y2="27.5" stroke="#f0a8a8" stroke-width="1.0"/>
<text x="455.6" y="31.4" font-size="9.2" font-weight="bold">Fitted curve</text>
<text x="378.2" y="105.7" font-size="9.8" font-weight="bold">O</text>
<text x="386.1" y="108.6" font-size="4.8" font-weight="bold" fill="#666" style="stroke:#666;stroke-width:0.2px">I</text>
<line x1="387.7" y1="103.3" x2="409.1" y2="121.1" stroke="#222" stroke-width="1.15"/>
<path d="M412.6,124.0 L408.1,122.2 L410.0,119.9 Z" fill="#111"/>
<text x="441.9" y="128.9" font-size="9.8" font-weight="bold">O</text>
<text x="449.8" y="131.8" font-size="4.8" font-weight="bold" fill="#666" style="stroke:#666;stroke-width:0.2px">II</text>
<line x1="441.9" y1="127.8" x2="425.6" y2="149.6" stroke="#222" stroke-width="1.15"/>
<path d="M422.8,153.3 L424.4,148.7 L426.8,150.5 Z" fill="#111"/>
<text x="458.2" y="154.0" font-size="9.8" font-weight="bold">O</text>
<text x="466.1" y="156.9" font-size="4.8" font-weight="bold" fill="#666" style="stroke:#666;stroke-width:0.2px">III</text>
<line x1="457.5" y1="153.6" x2="441.4" y2="165.1" stroke="#222" stroke-width="1.15"/>
<path d="M437.7,167.8 L440.6,163.9 L442.3,166.3 Z" fill="#111"/>
<path d="M104.0,391.3 L104.0,391.25 L104.5,391.23 L105.0,391.21 L105.5,391.19 L106.0,391.16 L106.5,391.12 L107.0,391.07 L107.5,391.00 L108.0,390.92 L108.5,390.83 L109.0,390.71 L109.5,390.56 L110.0,390.38 L110.5,390.16 L111.0,389.90 L111.5,389.59 L112.0,389.21 L112.5,388.76 L113.0,388.24 L113.5,387.62 L114.0,386.90 L114.5,386.06 L115.0,385.08 L115.5,383.96 L116.0,382.68 L116.5,381.22 L117.0,379.57 L117.5,377.71 L118.0,375.63 L118.5,373.31 L119.0,370.73 L119.5,367.90 L120.0,364.80 L120.5,361.43 L121.0,357.78 L121.5,353.85 L122.0,349.65 L122.5,345.19 L123.0,340.48 L123.5,335.54 L124.0,330.39 L124.5,325.07 L125.0,319.60 L125.5,314.03 L126.0,308.40 L126.5,302.75 L127.0,297.14 L127.5,291.61 L128.0,286.22 L128.5,281.02 L129.0,276.08 L129.5,271.44 L130.0,267.15 L130.5,263.27 L131.0,259.84 L131.5,256.88 L132.0,254.45 L132.5,252.56 L133.0,251.23 L133.5,250.46 L134.0,250.25 L134.5,250.59 L135.0,251.50 L135.5,252.99 L136.0,255.05 L136.5,257.65 L137.0,260.78 L137.5,264.40 L138.0,268.46 L138.5,272.92 L139.0,277.72 L139.5,282.82 L140.0,288.15 L140.5,293.66 L141.0,299.29 L141.5,305.00 L142.0,310.71 L142.5,316.39 L143.0,321.99 L143.5,327.46 L144.0,332.77 L144.5,337.88 L145.0,342.78 L145.5,347.42 L146.0,351.81 L146.5,355.92 L147.0,359.75 L147.5,363.29 L148.0,366.55 L148.5,369.54 L149.0,372.25 L149.5,374.70 L150.0,376.91 L150.5,378.88 L151.0,380.63 L151.5,382.17 L152.0,383.53 L152.5,384.72 L153.0,385.75 L153.5,386.64 L154.0,387.41 L154.5,388.07 L155.0,388.63 L155.5,389.10 L156.0,389.50 L156.5,389.83 L157.0,390.10 L157.5,390.33 L158.0,390.52 L158.5,390.68 L159.0,390.80 L159.5,390.91 L160.0,390.99 L160.5,391.06 L161.0,391.11 L161.5,391.15 L162.0,391.19 L162.5,391.21 L163.0,391.23 L163.5,391.25 L163.5,391.3 Z" fill="rgb(130,248,248)"/>
<path d="M121.0,391.3 L121.0,391.25 L121.5,391.23 L122.0,391.20 L122.5,391.16 L123.0,391.11 L123.5,391.05 L124.0,390.96 L124.5,390.86 L125.0,390.72 L125.5,390.56 L126.0,390.36 L126.5,390.11 L127.0,389.81 L127.5,389.45 L128.0,389.04 L128.5,388.55 L129.0,388.00 L129.5,387.37 L130.0,386.66 L130.5,385.89 L131.0,385.04 L131.5,384.13 L132.0,383.17 L132.5,382.16 L133.0,381.13 L133.5,380.10 L134.0,379.07 L134.5,378.08 L135.0,377.14 L135.5,376.27 L136.0,375.50 L136.5,374.84 L137.0,374.32 L137.5,373.93 L138.0,373.70 L138.5,373.61 L139.0,374.00 L139.5,375.26 L140.0,377.21 L140.5,379.61 L141.0,382.13 L141.5,384.50 L142.0,386.54 L142.5,388.16 L143.0,389.34 L143.5,390.15 L144.0,390.66 L144.5,390.97 L145.0,391.14 L145.5,391.22 L145.5,391.3 Z" fill="rgb(5,242,155)"/>
<path d="M116.0,391.3 L116.0,391.25 L116.5,391.24 L117.0,391.22 L117.5,391.21 L118.0,391.19 L118.5,391.17 L119.0,391.14 L119.5,391.11 L120.0,391.08 L120.5,391.03 L121.0,390.98 L121.5,390.93 L122.0,390.86 L122.5,390.79 L123.0,390.70 L123.5,390.60 L124.0,390.48 L124.5,390.35 L125.0,390.21 L125.5,390.04 L126.0,389.85 L126.5,389.64 L127.0,389.41 L127.5,389.15 L128.0,388.86 L128.5,388.54 L129.0,388.19 L129.5,387.80 L130.0,387.38 L130.5,386.91 L131.0,386.41 L131.5,385.87 L132.0,385.29 L132.5,384.66 L133.0,383.99 L133.5,383.28 L134.0,382.52 L134.5,381.72 L135.0,380.87 L135.5,379.99 L136.0,379.07 L136.5,378.11 L137.0,377.12 L137.5,376.10 L138.0,375.06 L138.5,373.99 L139.0,372.91 L139.5,371.82 L140.0,370.73 L140.5,369.64 L141.0,368.55 L141.5,367.48 L142.0,366.43 L142.5,365.42 L143.0,364.44 L143.5,363.50 L144.0,362.61 L144.5,361.78 L145.0,361.01 L145.5,360.31 L146.0,359.68 L146.5,359.13 L147.0,358.66 L147.5,358.28 L148.0,357.99 L148.5,357.78 L149.0,357.66 L149.5,357.63 L150.0,357.69 L150.5,357.84 L151.0,358.07 L151.5,358.40 L152.0,358.82 L152.5,359.32 L153.0,359.91 L153.5,360.57 L154.0,361.31 L154.5,362.11 L155.0,362.98 L155.5,363.90 L156.0,364.87 L156.5,365.88 L157.0,366.92 L157.5,368.00 L158.0,369.09 L158.5,370.19 L159.0,371.30 L159.5,372.40 L160.0,373.50 L160.5,374.59 L161.0,375.65 L161.5,376.70 L162.0,377.71 L162.5,378.69 L163.0,379.64 L163.5,380.55 L164.0,381.42 L164.5,382.24 L165.0,383.02 L165.5,383.76 L166.0,384.45 L166.5,385.10 L167.0,385.70 L167.5,386.27 L168.0,386.78 L168.5,387.26 L169.0,387.70 L169.5,388.10 L170.0,388.46 L170.5,388.80 L171.0,389.09 L171.5,389.36 L172.0,389.61 L172.5,389.82 L173.0,390.01 L173.5,390.19 L174.0,390.34 L174.5,390.47 L175.0,390.59 L175.5,390.69 L176.0,390.78 L176.5,390.86 L177.0,390.92 L177.5,390.98 L178.0,391.03 L178.5,391.07 L179.0,391.11 L179.5,391.14 L180.0,391.17 L180.5,391.19 L181.0,391.21 L181.5,391.23 L182.0,391.24 L182.5,391.25 L182.5,391.3 Z" fill="rgba(255,255,100,0.4)"/>
<path d="M43.5,391.30 L44.0,391.30 L44.5,391.30 L45.0,391.30 L45.5,391.30 L46.0,391.30 L46.5,391.30 L47.0,391.30 L47.5,391.30 L48.0,391.30 L48.5,391.30 L49.0,391.30 L49.5,391.30 L50.0,391.30 L50.5,391.30 L51.0,391.30 L51.5,391.30 L52.0,391.30 L52.5,391.30 L53.0,391.30 L53.5,391.30 L54.0,391.30 L54.5,391.30 L55.0,391.30 L55.5,391.30 L56.0,391.30 L56.5,391.30 L57.0,391.30 L57.5,391.30 L58.0,391.30 L58.5,391.30 L59.0,391.30 L59.5,391.30 L60.0,391.30 L60.5,391.30 L61.0,391.30 L61.5,391.30 L62.0,391.30 L62.5,391.30 L63.0,391.30 L63.5,391.30 L64.0,391.30 L64.5,391.30 L65.0,391.30 L65.5,391.30 L66.0,391.30 L66.5,391.30 L67.0,391.30 L67.5,391.30 L68.0,391.30 L68.5,391.30 L69.0,391.30 L69.5,391.30 L70.0,391.30 L70.5,391.30 L71.0,391.30 L71.5,391.30 L72.0,391.30 L72.5,391.30 L73.0,391.30 L73.5,391.30 L74.0,391.30 L74.5,391.30 L75.0,391.30 L75.5,391.30 L76.0,391.30 L76.5,391.30 L77.0,391.30 L77.5,391.30 L78.0,391.30 L78.5,391.30 L79.0,391.30 L79.5,391.30 L80.0,391.30 L80.5,391.30 L81.0,391.30 L81.5,391.30 L82.0,391.30 L82.5,391.30 L83.0,391.30 L83.5,391.30 L84.0,391.30 L84.5,391.30 L85.0,391.30 L85.5,391.30 L86.0,391.30 L86.5,391.30 L87.0,391.30 L87.5,391.30 L88.0,391.30 L88.5,391.30 L89.0,391.30 L89.5,391.30 L90.0,391.30 L90.5,391.30 L91.0,391.30 L91.5,391.30 L92.0,391.30 L92.5,391.30 L93.0,391.30 L93.5,391.30 L94.0,391.30 L94.5,391.30 L95.0,391.30 L95.5,391.30 L96.0,391.30 L96.5,391.30 L97.0,391.30 L97.5,391.30 L98.0,391.30 L98.5,391.30 L99.0,391.30 L99.5,391.30 L100.0,391.29 L100.5,391.29 L101.0,391.29 L101.5,391.29 L102.0,391.28 L102.5,391.28 L103.0,391.27 L103.5,391.26 L104.0,391.25 L104.5,391.23 L105.0,391.21 L105.5,391.19 L106.0,391.16 L106.5,391.12 L107.0,391.06 L107.5,391.00 L108.0,390.92 L108.5,390.82 L109.0,390.70 L109.5,390.55 L110.0,390.37 L110.5,390.16 L111.0,389.89 L111.5,389.58 L112.0,389.20 L112.5,388.75 L113.0,388.22 L113.5,387.60 L114.0,386.87 L114.5,386.03 L115.0,385.05 L115.5,383.92 L116.0,382.63 L116.5,381.16 L117.0,379.49 L117.5,377.62 L118.0,375.51 L118.5,373.17 L119.0,370.56 L119.5,367.70 L120.0,364.55 L120.5,361.12 L121.0,357.41 L121.5,353.40 L122.0,349.11 L122.5,344.53 L123.0,339.69 L123.5,334.58 L124.0,329.24 L124.5,323.68 L125.0,317.94 L125.5,312.03 L126.0,306.01 L126.5,299.90 L127.0,293.75 L127.5,287.61 L128.0,281.51 L128.5,275.52 L129.0,269.66 L129.5,264.01 L130.0,258.59 L130.5,253.47 L131.0,248.69 L131.5,244.29 L132.0,240.31 L132.5,236.78 L133.0,233.75 L133.5,231.23 L134.0,229.24 L134.5,227.78 L135.0,226.91 L135.5,226.65 L136.0,227.02 L136.5,228.01 L137.0,229.62 L137.5,231.84 L138.0,234.62 L138.5,237.93 L139.0,242.04 L139.5,247.30 L140.0,253.49 L140.5,260.30 L141.0,267.37 L141.5,274.38 L142.0,281.09 L142.5,287.37 L143.0,293.16 L143.5,298.51 L144.0,303.44 L144.5,308.03 L145.0,312.32 L145.5,316.35 L146.0,320.15 L146.5,323.73 L147.0,327.10 L147.5,330.27 L148.0,333.24 L148.5,336.02 L149.0,338.61 L149.5,341.04 L150.0,343.30 L150.5,345.41 L151.0,347.40 L151.5,349.27 L152.0,351.05 L152.5,352.74 L153.0,354.36 L153.5,355.92 L154.0,357.42 L154.5,358.88 L155.0,360.30 L155.5,361.70 L156.0,363.07 L156.5,364.41 L157.0,365.73 L157.5,367.03 L158.0,368.31 L158.5,369.57 L159.0,370.80 L159.5,372.01 L160.0,373.19 L160.5,374.34 L161.0,375.46 L161.5,376.55 L162.0,377.60 L162.5,378.60 L163.0,379.57 L163.5,380.50 L164.0,381.38 L164.5,382.21 L165.0,383.00 L165.5,383.74 L166.0,384.44 L166.5,385.09 L167.0,385.70 L167.5,386.26 L168.0,386.78 L168.5,387.26 L169.0,387.70 L169.5,388.10 L170.0,388.46 L170.5,388.79 L171.0,389.09 L171.5,389.36 L172.0,389.61 L172.5,389.82 L173.0,390.01 L173.5,390.19 L174.0,390.34 L174.5,390.47 L175.0,390.59 L175.5,390.69 L176.0,390.78 L176.5,390.86 L177.0,390.92 L177.5,390.98 L178.0,391.03 L178.5,391.07 L179.0,391.11 L179.5,391.14 L180.0,391.17 L180.5,391.19 L181.0,391.21 L181.5,391.23 L182.0,391.24 L182.5,391.25 L183.0,391.26 L183.5,391.27 L184.0,391.27 L184.5,391.28 L185.0,391.28 L185.5,391.29 L186.0,391.29 L186.5,391.29 L187.0,391.29 L187.5,391.29 L188.0,391.30 L188.5,391.30 L189.0,391.30 L189.5,391.30 L190.0,391.30 L190.5,391.30 L191.0,391.30 L191.5,391.30 L192.0,391.30 L192.5,391.30 L193.0,391.30 L193.5,391.30 L194.0,391.30 L194.5,391.30 L195.0,391.30 L195.5,391.30 L196.0,391.30 L196.5,391.30 L197.0,391.30 L197.5,391.30 L198.0,391.30 L198.5,391.30 L199.0,391.30 L199.5,391.30 L200.0,391.30 L200.5,391.30 L201.0,391.30 L201.5,391.30 L202.0,391.30 L202.5,391.30 L203.0,391.30 L203.5,391.30 L204.0,391.30 L204.5,391.30 L205.0,391.30 L205.5,391.30 L206.0,391.30 L206.5,391.30 L207.0,391.30 L207.5,391.30 L208.0,391.30 L208.5,391.30 L209.0,391.30 L209.5,391.30 L210.0,391.30 L210.5,391.30 L211.0,391.30 L211.5,391.30 L212.0,391.30 L212.5,391.30 L213.0,391.30 L213.5,391.30 L214.0,391.30 L214.5,391.30 L215.0,391.30 L215.5,391.30 L216.0,391.30 L216.5,391.30 L217.0,391.30 L217.5,391.30 L218.0,391.30 L218.5,391.30 L219.0,391.30 L219.5,391.30 L220.0,391.30 L220.5,391.30 L221.0,391.30 L221.5,391.30 L222.0,391.30 L222.5,391.30 L223.0,391.30 L223.5,391.30 L224.0,391.30 L224.5,391.30 L225.0,391.30 L225.5,391.30 L226.0,391.30 L226.5,391.30 L227.0,391.30 L227.5,391.30 L228.0,391.30 L228.5,391.30 L229.0,391.30 L229.5,391.30 L230.0,391.30 L230.5,391.30 L231.0,391.30 L231.5,391.30 L232.0,391.30 L232.5,391.30 L233.0,391.30 L233.5,391.30 L234.0,391.30" fill="none" stroke="#ee9090" stroke-width="0.8"/>
<path d="M44.5 391.1h0M45.5 390.9h0M46.6 391.3h0M47.6 390.9h0M48.7 390.5h0M49.7 391.3h0M50.8 390.7h0M51.8 390.8h0M52.9 390.9h0M53.9 391.1h0M55.0 391.3h0M56.0 391.3h0M57.1 390.9h0M58.1 389.6h0M59.2 390.7h0M60.2 390.8h0M61.3 390.8h0M62.3 391.2h0M63.4 391.3h0M64.4 391.0h0M65.5 390.9h0M66.5 391.1h0M67.6 391.3h0M68.6 391.2h0M69.7 391.3h0M70.7 391.0h0M71.8 391.3h0M72.8 391.1h0M73.9 391.0h0M74.9 391.1h0M76.0 390.7h0M77.0 391.3h0M78.1 391.3h0M79.1 390.8h0M80.2 390.7h0M81.2 390.7h0M82.3 391.0h0M83.3 390.9h0M84.4 391.1h0M85.4 391.3h0M86.5 390.3h0M87.5 390.9h0M88.6 391.3h0M89.6 390.5h0M90.7 391.3h0M91.7 391.2h0M92.8 390.8h0M93.8 391.3h0M94.9 391.3h0M95.9 391.3h0M97.0 391.3h0M98.0 390.6h0M99.1 391.0h0M100.1 390.9h0M101.2 391.2h0M102.2 390.8h0M103.3 391.0h0M104.3 391.3h0M105.4 391.1h0M106.4 390.9h0M107.5 390.1h0M108.5 390.6h0M109.6 390.2h0M110.6 389.3h0M111.7 389.5h0M112.7 388.7h0M113.8 386.7h0M114.8 385.1h0M115.9 382.8h0M116.9 379.5h0M118.0 375.6h0M119.0 370.2h0M120.1 364.1h0M121.1 356.1h0M122.2 347.8h0M123.2 337.6h0M124.3 326.2h0M125.3 314.3h0M126.4 301.3h0M127.4 288.6h0M128.5 276.0h0M129.5 263.7h0M130.6 252.9h0M131.6 243.7h0M132.7 235.9h0M133.7 230.4h0M134.8 227.2h0M135.8 226.6h0M136.9 228.1h0M137.9 233.6h0M139.0 240.8h0M140.0 252.9h0M141.0 267.9h0M142.1 281.7h0M143.1 294.2h0M144.2 305.2h0M145.2 314.0h0M146.3 321.8h0M147.3 329.0h0M148.4 334.9h0M149.4 340.4h0M150.5 344.4h0M151.5 349.3h0M152.6 352.7h0M153.6 355.0h0M154.7 359.0h0M155.7 362.7h0M156.8 364.9h0M157.8 367.3h0M158.9 370.1h0M159.9 372.8h0M161.0 375.1h0M162.0 376.9h0M163.1 379.8h0M164.1 381.5h0M165.2 383.1h0M166.2 384.3h0M167.3 386.1h0M168.3 386.6h0M169.4 388.3h0M170.4 388.8h0M171.5 389.2h0M172.5 389.3h0M173.6 390.2h0M174.6 390.9h0M175.7 390.4h0M176.7 390.7h0M177.8 391.1h0M178.8 391.2h0M179.9 391.2h0M180.9 391.0h0M182.0 389.4h0M183.0 391.3h0M184.1 390.4h0M185.1 391.1h0M186.2 391.2h0M187.2 390.9h0M188.3 391.0h0M189.3 390.4h0M190.4 390.8h0M191.4 391.2h0M192.5 391.2h0M193.5 391.2h0M194.6 391.2h0M195.6 390.9h0M196.7 391.3h0M197.7 390.6h0M198.8 391.1h0M199.8 391.1h0M200.9 390.8h0M201.9 391.3h0M203.0 391.3h0M204.0 390.9h0M205.1 391.1h0M206.1 391.1h0M207.2 391.0h0M208.2 391.3h0M209.3 390.8h0M210.3 391.3h0M211.4 391.3h0M212.4 390.7h0M213.5 391.3h0M214.5 391.3h0M215.6 390.7h0M216.6 390.8h0M217.7 391.2h0M218.7 391.2h0M219.8 391.1h0M220.8 391.3h0M221.9 390.2h0M222.9 391.0h0M224.0 391.0h0M225.0 390.4h0M226.1 390.9h0M227.1 390.5h0M228.2 390.6h0M229.2 391.3h0M230.3 390.8h0M231.3 391.3h0M232.4 391.3h0M233.4 390.9h0" stroke="#111" stroke-width="2.3" stroke-linecap="round" fill="none"/>
<line x1="23.5" y1="221.5" x2="254.4" y2="221.5" stroke="#777" stroke-width="1.2"/>
<line x1="254.4" y1="221.5" x2="254.4" y2="391.3" stroke="#333" stroke-width="1.1"/>
<line x1="23.5" y1="221.5" x2="23.5" y2="391.8" stroke="#333" stroke-width="1.1"/>
<line x1="23.5" y1="391.3" x2="254.4" y2="391.3" stroke="#222" stroke-width="1.2"/>
<path d="M23.5 391.3v-4.0M34.0 391.3v-2.0M44.5 391.3v-4.0M55.0 391.3v-2.0M65.5 391.3v-4.0M76.0 391.3v-2.0M86.5 391.3v-4.0M97.0 391.3v-2.0M107.5 391.3v-4.0M118.0 391.3v-2.0M128.5 391.3v-4.0M138.9 391.3v-2.0M149.4 391.3v-4.0M159.9 391.3v-2.0M170.4 391.3v-4.0M180.9 391.3v-2.0M191.4 391.3v-4.0M201.9 391.3v-2.0M212.4 391.3v-4.0M222.9 391.3v-2.0M233.4 391.3v-4.0M243.9 391.3v-2.0M254.4 391.3v-4.0M23.5 367.1h2.0M23.5 342.8h3.5M23.5 318.6h2.0M23.5 294.3h3.5M23.5 270.1h2.0M23.5 245.8h3.5" stroke="#333" stroke-width="0.9" fill="none"/>
<text x="23.5" y="401.1" font-size="7.4" font-weight="bold" text-anchor="middle">520</text>
<text x="44.5" y="401.1" font-size="7.4" font-weight="bold" text-anchor="middle">522</text>
<text x="65.5" y="401.1" font-size="7.4" font-weight="bold" text-anchor="middle">524</text>
<text x="86.5" y="401.1" font-size="7.4" font-weight="bold" text-anchor="middle">526</text>
<text x="107.5" y="401.1" font-size="7.4" font-weight="bold" text-anchor="middle">528</text>
<text x="128.5" y="401.1" font-size="7.4" font-weight="bold" text-anchor="middle">530</text>
<text x="149.4" y="401.1" font-size="7.4" font-weight="bold" text-anchor="middle">532</text>
<text x="170.4" y="401.1" font-size="7.4" font-weight="bold" text-anchor="middle">534</text>
<text x="191.4" y="401.1" font-size="7.4" font-weight="bold" text-anchor="middle">536</text>
<text x="212.4" y="401.1" font-size="7.4" font-weight="bold" text-anchor="middle">538</text>
<text x="233.4" y="401.1" font-size="7.4" font-weight="bold" text-anchor="middle">540</text>
<text x="254.4" y="401.1" font-size="7.4" font-weight="bold" text-anchor="middle">542</text>
<text x="139.2" y="417.2" font-size="9.2" font-weight="bold" text-anchor="middle">Binding energy (eV)</text>
<text transform="translate(16.0 314.8) rotate(-90)" font-size="9.2" font-weight="bold" text-anchor="middle">Intensity (cps)</text>
<text x="6.5" y="230.0" font-size="8.6" font-weight="bold">(e)</text>
<text x="25.3" y="230.9" font-size="9.2" font-weight="bold">700 °C</text>
<circle cx="159.4" cy="230.3" r="1.2" fill="#111"/>
<text x="172.1" y="233.9" font-size="9.2" font-weight="bold">Raw data</text>
<line x1="149.2" y1="242.2" x2="169.3" y2="242.2" stroke="#ee9090" stroke-width="1.3"/>
<text x="172.1" y="245.2" font-size="9.2" font-weight="bold">Fitted curve</text>
<text x="94.7" y="316.9" font-size="9.8" font-weight="bold">O</text>
<text x="102.6" y="319.8" font-size="4.8" font-weight="bold" fill="#666" style="stroke:#666;stroke-width:0.2px">I</text>
<line x1="103.9" y1="318.3" x2="126.1" y2="335.7" stroke="#222" stroke-width="1.15"/>
<path d="M129.7,338.5 L125.2,336.8 L127.0,334.5 Z" fill="#111"/>
<text x="158.4" y="342.8" font-size="9.8" font-weight="bold">O</text>
<text x="166.3" y="345.7" font-size="4.8" font-weight="bold" fill="#666" style="stroke:#666;stroke-width:0.2px">II</text>
<line x1="160.5" y1="345.2" x2="141.2" y2="371.7" stroke="#222" stroke-width="1.15"/>
<path d="M138.5,375.4 L140.0,370.8 L142.4,372.6 Z" fill="#111"/>
<text x="175.4" y="368.3" font-size="9.8" font-weight="bold">O</text>
<text x="183.3" y="371.2" font-size="4.8" font-weight="bold" fill="#666" style="stroke:#666;stroke-width:0.2px">III</text>
<line x1="175.1" y1="367.6" x2="158.6" y2="379.2" stroke="#222" stroke-width="1.15"/>
<path d="M154.8,381.8 L157.7,377.9 L159.4,380.4 Z" fill="#111"/>
<path d="M384.5,391.5 L384.5,391.45 L385.0,391.44 L385.5,391.42 L386.0,391.40 L386.5,391.37 L387.0,391.34 L387.5,391.30 L388.0,391.25 L388.5,391.19 L389.0,391.12 L389.5,391.03 L390.0,390.93 L390.5,390.81 L391.0,390.66 L391.5,390.48 L392.0,390.27 L392.5,390.02 L393.0,389.74 L393.5,389.40 L394.0,389.00 L394.5,388.54 L395.0,388.02 L395.5,387.41 L396.0,386.71 L396.5,385.91 L397.0,385.01 L397.5,383.99 L398.0,382.84 L398.5,381.55 L399.0,380.11 L399.5,378.50 L400.0,376.73 L400.5,374.77 L401.0,372.63 L401.5,370.29 L402.0,367.74 L402.5,364.99 L403.0,362.03 L403.5,358.85 L404.0,355.47 L404.5,351.88 L405.0,348.09 L405.5,344.11 L406.0,339.95 L406.5,335.64 L407.0,331.18 L407.5,326.61 L408.0,321.94 L408.5,317.21 L409.0,312.44 L409.5,307.67 L410.0,302.94 L410.5,298.28 L411.0,293.74 L411.5,289.34 L412.0,285.13 L412.5,281.15 L413.0,277.44 L413.5,274.02 L414.0,270.94 L414.5,268.22 L415.0,265.90 L415.5,264.00 L416.0,262.53 L416.5,261.50 L417.0,260.94 L417.5,260.84 L418.0,261.21 L418.5,262.07 L419.0,263.39 L419.5,265.18 L420.0,267.40 L420.5,270.05 L421.0,273.08 L421.5,276.47 L422.0,280.19 L422.5,284.19 L423.0,288.44 L423.5,292.89 L424.0,297.51 L424.5,302.25 L425.0,307.07 L425.5,311.93 L426.0,316.80 L426.5,321.63 L427.0,326.40 L427.5,331.07 L428.0,335.62 L428.5,340.03 L429.0,344.26 L429.5,348.32 L430.0,352.17 L430.5,355.82 L431.0,359.25 L431.5,362.46 L432.0,365.45 L432.5,368.23 L433.0,370.78 L433.5,373.13 L434.0,375.27 L434.5,377.22 L435.0,378.98 L435.5,380.56 L436.0,381.99 L436.5,383.25 L437.0,384.38 L437.5,385.38 L438.0,386.25 L438.5,387.02 L439.0,387.69 L439.5,388.27 L440.0,388.78 L440.5,389.21 L441.0,389.58 L441.5,389.90 L442.0,390.17 L442.5,390.40 L443.0,390.59 L443.5,390.76 L444.0,390.89 L444.5,391.00 L445.0,391.10 L445.5,391.17 L446.0,391.24 L446.5,391.29 L447.0,391.33 L447.5,391.37 L448.0,391.39 L448.5,391.42 L449.0,391.43 L449.5,391.45 L449.5,391.5 Z" fill="rgb(130,248,248)"/>
<path d="M405.0,391.5 L405.0,391.43 L405.5,391.40 L406.0,391.36 L406.5,391.31 L407.0,391.23 L407.5,391.13 L408.0,391.00 L408.5,390.83 L409.0,390.62 L409.5,390.34 L410.0,390.00 L410.5,389.57 L411.0,389.05 L411.5,388.41 L412.0,387.66 L412.5,386.77 L413.0,385.73 L413.5,384.54 L414.0,383.19 L414.5,381.69 L415.0,380.03 L415.5,378.24 L416.0,376.32 L416.5,374.30 L417.0,372.22 L417.5,370.11 L418.0,368.02 L418.5,365.99 L419.0,364.08 L419.5,362.32 L420.0,360.77 L420.5,359.47 L421.0,358.47 L421.5,357.77 L422.0,357.42 L422.5,357.44 L423.0,358.01 L423.5,359.13 L424.0,360.77 L424.5,362.82 L425.0,365.21 L425.5,367.82 L426.0,370.54 L426.5,373.28 L427.0,375.94 L427.5,378.44 L428.0,380.73 L428.5,382.78 L429.0,384.56 L429.5,386.08 L430.0,387.33 L430.5,388.36 L431.0,389.17 L431.5,389.80 L432.0,390.29 L432.5,390.65 L433.0,390.91 L433.5,391.10 L434.0,391.23 L434.5,391.33 L435.0,391.39 L435.5,391.43 L435.5,391.5 Z" fill="rgb(5,242,155)"/>
<path d="M399.5,391.5 L399.5,391.44 L400.0,391.43 L400.5,391.42 L401.0,391.40 L401.5,391.38 L402.0,391.36 L402.5,391.33 L403.0,391.30 L403.5,391.27 L404.0,391.23 L404.5,391.18 L405.0,391.13 L405.5,391.07 L406.0,391.00 L406.5,390.92 L407.0,390.83 L407.5,390.73 L408.0,390.61 L408.5,390.48 L409.0,390.34 L409.5,390.17 L410.0,389.99 L410.5,389.79 L411.0,389.57 L411.5,389.32 L412.0,389.05 L412.5,388.75 L413.0,388.43 L413.5,388.07 L414.0,387.68 L414.5,387.26 L415.0,386.81 L415.5,386.32 L416.0,385.80 L416.5,385.24 L417.0,384.64 L417.5,384.00 L418.0,383.33 L418.5,382.62 L419.0,381.88 L419.5,381.10 L420.0,380.28 L420.5,379.43 L421.0,378.56 L421.5,377.66 L422.0,376.73 L422.5,375.78 L423.0,374.81 L423.5,373.83 L424.0,372.85 L424.5,371.86 L425.0,370.87 L425.5,369.89 L426.0,368.92 L426.5,367.97 L427.0,367.04 L427.5,366.14 L428.0,365.28 L428.5,364.46 L429.0,363.69 L429.5,362.97 L430.0,362.30 L430.5,361.70 L431.0,361.17 L431.5,360.70 L432.0,360.31 L432.5,360.00 L433.0,359.77 L433.5,359.61 L434.0,359.54 L434.5,359.56 L435.0,359.75 L435.5,360.10 L436.0,360.62 L436.5,361.30 L437.0,362.12 L437.5,363.07 L438.0,364.14 L438.5,365.31 L439.0,366.57 L439.5,367.90 L440.0,369.28 L440.5,370.69 L441.0,372.12 L441.5,373.55 L442.0,374.97 L442.5,376.36 L443.0,377.70 L443.5,379.00 L444.0,380.23 L444.5,381.40 L445.0,382.50 L445.5,383.52 L446.0,384.47 L446.5,385.34 L447.0,386.13 L447.5,386.84 L448.0,387.48 L448.5,388.06 L449.0,388.56 L449.5,389.01 L450.0,389.40 L450.5,389.74 L451.0,390.03 L451.5,390.28 L452.0,390.49 L452.5,390.67 L453.0,390.83 L453.5,390.95 L454.0,391.06 L454.5,391.15 L455.0,391.22 L455.5,391.28 L456.0,391.32 L456.5,391.36 L457.0,391.39 L457.5,391.42 L458.0,391.43 L458.0,391.5 Z" fill="rgba(255,255,100,0.4)"/>
<path d="M327.3,391.50 L327.8,391.50 L328.3,391.50 L328.8,391.50 L329.4,391.50 L329.9,391.50 L330.4,391.50 L330.9,391.50 L331.4,391.50 L331.9,391.50 L332.4,391.50 L333.0,391.50 L333.5,391.50 L334.0,391.50 L334.5,391.50 L335.0,391.50 L335.5,391.50 L336.1,391.50 L336.6,391.50 L337.1,391.50 L337.6,391.50 L338.1,391.50 L338.6,391.50 L339.1,391.50 L339.7,391.50 L340.2,391.50 L340.7,391.50 L341.2,391.50 L341.7,391.50 L342.2,391.50 L342.8,391.50 L343.3,391.50 L343.8,391.50 L344.3,391.50 L344.8,391.50 L345.3,391.50 L345.8,391.50 L346.4,391.50 L346.9,391.50 L347.4,391.50 L347.9,391.50 L348.4,391.50 L348.9,391.50 L349.4,391.50 L350.0,391.50 L350.5,391.50 L351.0,391.50 L351.5,391.50 L352.0,391.50 L352.5,391.50 L353.1,391.50 L353.6,391.50 L354.1,391.50 L354.6,391.50 L355.1,391.50 L355.6,391.50 L356.1,391.50 L356.7,391.50 L357.2,391.50 L357.7,391.50 L358.2,391.50 L358.7,391.50 L359.2,391.50 L359.7,391.50 L360.3,391.50 L360.8,391.50 L361.3,391.50 L361.8,391.50 L362.3,391.50 L362.8,391.50 L363.4,391.50 L363.9,391.50 L364.4,391.50 L364.9,391.50 L365.4,391.50 L365.9,391.50 L366.4,391.50 L367.0,391.50 L367.5,391.50 L368.0,391.50 L368.5,391.50 L369.0,391.50 L369.5,391.50 L370.0,391.50 L370.6,391.50 L371.1,391.50 L371.6,391.50 L372.1,391.50 L372.6,391.50 L373.1,391.50 L373.6,391.50 L374.2,391.50 L374.7,391.50 L375.2,391.50 L375.7,391.50 L376.2,391.50 L376.7,391.50 L377.3,391.50 L377.8,391.50 L378.3,391.50 L378.8,391.49 L379.3,391.49 L379.8,391.49 L380.3,391.49 L380.9,391.49 L381.4,391.48 L381.9,391.48 L382.4,391.47 L382.9,391.46 L383.4,391.45 L383.9,391.43 L384.5,391.42 L385.0,391.40 L385.5,391.37 L386.0,391.34 L386.5,391.30 L387.0,391.25 L387.6,391.19 L388.1,391.12 L388.6,391.03 L389.1,390.92 L389.6,390.80 L390.1,390.65 L390.6,390.47 L391.2,390.26 L391.7,390.01 L392.2,389.71 L392.7,389.37 L393.2,388.97 L393.7,388.51 L394.2,387.97 L394.8,387.36 L395.3,386.65 L395.8,385.85 L396.3,384.93 L396.8,383.89 L397.3,382.73 L397.9,381.42 L398.4,379.95 L398.9,378.33 L399.4,376.52 L399.9,374.54 L400.4,372.36 L400.9,369.97 L401.5,367.38 L402.0,364.58 L402.5,361.55 L403.0,358.30 L403.5,354.84 L404.0,351.15 L404.6,347.25 L405.1,343.15 L405.6,338.84 L406.1,334.35 L406.6,329.69 L407.1,324.87 L407.6,319.91 L408.2,314.84 L408.7,309.66 L409.2,304.41 L409.7,299.11 L410.2,293.78 L410.7,288.43 L411.2,283.11 L411.8,277.83 L412.3,272.61 L412.8,267.49 L413.3,262.48 L413.8,257.62 L414.3,252.94 L414.9,248.47 L415.4,244.24 L415.9,240.29 L416.4,236.66 L416.9,233.39 L417.4,230.52 L417.9,228.11 L418.5,226.21 L419.0,224.86 L419.5,224.10 L420.0,223.96 L420.5,224.47 L421.0,225.63 L421.5,227.44 L422.1,229.90 L422.6,233.00 L423.1,236.88 L423.6,241.52 L424.1,246.83 L424.6,252.69 L425.1,258.96 L425.7,265.51 L426.2,272.19 L426.7,278.87 L427.2,285.43 L427.7,291.76 L428.2,297.80 L428.8,303.48 L429.3,308.77 L429.8,313.66 L430.3,318.15 L430.8,322.26 L431.3,326.00 L431.8,329.42 L432.4,332.53 L432.9,335.37 L433.4,337.98 L433.9,340.39 L434.4,342.61 L434.9,344.69 L435.4,346.72 L436.0,348.72 L436.5,350.70 L437.0,352.68 L437.5,354.65 L438.0,356.62 L438.5,358.59 L439.1,360.56 L439.6,362.50 L440.1,364.43 L440.6,366.33 L441.1,368.20 L441.6,370.02 L442.1,371.78 L442.7,373.48 L443.2,375.11 L443.7,376.66 L444.2,378.13 L444.7,379.52 L445.2,380.81 L445.8,382.01 L446.3,383.12 L446.8,384.14 L447.3,385.07 L447.8,385.91 L448.3,386.66 L448.8,387.34 L449.4,387.94 L449.9,388.47 L450.4,388.93 L450.9,389.34 L451.4,389.69 L451.9,389.99 L452.4,390.25 L453.0,390.47 L453.5,390.66 L454.0,390.81 L454.5,390.94 L455.0,391.05 L455.5,391.14 L456.1,391.21 L456.6,391.27 L457.1,391.32 L457.6,391.36 L458.1,391.39 L458.6,391.41 L459.1,391.43 L459.7,391.45 L460.2,391.46 L460.7,391.47 L461.2,391.48 L461.7,391.48 L462.2,391.49 L462.7,391.49 L463.3,391.49 L463.8,391.49 L464.3,391.50 L464.8,391.50 L465.3,391.50 L465.8,391.50 L466.4,391.50 L466.9,391.50 L467.4,391.50 L467.9,391.50 L468.4,391.50 L468.9,391.50 L469.4,391.50 L470.0,391.50 L470.5,391.50 L471.0,391.50 L471.5,391.50 L472.0,391.50 L472.5,391.50 L473.0,391.50 L473.6,391.50 L474.1,391.50 L474.6,391.50 L475.1,391.50 L475.6,391.50 L476.1,391.50 L476.6,391.50 L477.2,391.50 L477.7,391.50 L478.2,391.50 L478.7,391.50 L479.2,391.50 L479.7,391.50 L480.3,391.50 L480.8,391.50 L481.3,391.50 L481.8,391.50 L482.3,391.50 L482.8,391.50 L483.3,391.50 L483.9,391.50 L484.4,391.50 L484.9,391.50 L485.4,391.50 L485.9,391.50 L486.4,391.50 L486.9,391.50 L487.5,391.50 L488.0,391.50 L488.5,391.50 L489.0,391.50 L489.5,391.50 L490.0,391.50 L490.6,391.50 L491.1,391.50 L491.6,391.50 L492.1,391.50 L492.6,391.50 L493.1,391.50 L493.6,391.50 L494.2,391.50 L494.7,391.50 L495.2,391.50 L495.7,391.50 L496.2,391.50 L496.7,391.50 L497.2,391.50 L497.8,391.50 L498.3,391.50 L498.8,391.50 L499.3,391.50 L499.8,391.50 L500.3,391.50 L500.9,391.50 L501.4,391.50 L501.9,391.50 L502.4,391.50 L502.9,391.50 L503.4,391.50 L503.9,391.50 L504.5,391.50 L505.0,391.50 L505.5,391.50 L506.0,391.50 L506.5,391.50 L507.0,391.50 L507.6,391.50 L508.1,391.50 L508.6,391.50 L509.1,391.50 L509.6,391.50 L510.1,391.50 L510.6,391.50 L511.2,391.50 L511.7,391.50 L512.2,391.50 L512.7,391.50 L513.2,391.50 L513.7,391.50 L514.2,391.50 L514.8,391.50 L515.3,391.50 L515.8,391.50 L516.3,391.50 L516.8,391.50 L517.3,391.50 L517.9,391.50 L518.4,391.50 L518.9,391.50 L519.4,391.50 L519.9,391.50 L520.4,391.50 L520.9,391.50" fill="none" stroke="#ea7880" stroke-width="1.3"/>
<path d="M330.9 391.3h0M331.4 391.4h0M332.0 391.4h0M332.5 391.3h0M333.0 391.3h0M333.5 391.3h0M334.1 391.2h0M334.6 391.3h0M335.1 391.3h0M335.7 391.5h0M336.2 391.2h0M336.7 391.3h0M337.2 391.4h0M337.8 391.3h0M338.3 391.4h0M338.8 391.4h0M339.4 391.1h0M339.9 391.2h0M340.4 391.2h0M340.9 391.2h0M341.5 391.2h0M342.0 391.3h0M342.5 391.0h0M343.1 391.3h0M343.6 391.2h0M344.1 391.3h0M344.7 391.3h0M345.2 391.5h0M345.7 391.5h0M346.2 391.1h0M346.8 391.1h0M347.3 391.3h0M347.8 391.3h0M348.4 391.2h0M348.9 391.4h0M349.4 391.1h0M349.9 391.2h0M350.5 391.4h0M351.0 391.5h0M351.5 391.1h0M352.1 391.3h0M352.6 391.1h0M353.1 391.4h0M353.6 391.3h0M354.2 391.3h0M354.7 391.3h0M355.2 391.1h0M355.8 391.1h0M356.3 391.2h0M356.8 391.3h0M357.4 390.8h0M357.9 391.2h0M358.4 391.2h0M358.9 391.2h0M359.5 391.3h0M360.0 391.4h0M360.5 390.8h0M361.1 391.1h0M361.6 391.4h0M362.1 391.3h0M362.6 391.2h0M363.2 391.4h0M363.7 391.3h0M364.2 391.5h0M364.8 391.4h0M365.3 391.4h0M365.8 391.3h0M366.3 391.3h0M366.9 391.3h0M367.4 391.3h0M367.9 391.2h0M368.5 391.1h0M369.0 391.0h0M369.5 391.4h0M370.0 391.4h0M370.6 391.3h0M371.1 391.4h0M371.6 391.3h0M372.2 391.3h0M372.7 391.2h0M373.2 391.2h0M373.8 391.3h0M374.3 391.3h0M374.8 391.3h0M375.3 391.2h0M375.9 391.3h0M376.4 391.4h0M376.9 391.3h0M377.5 391.3h0M378.0 391.3h0M378.5 391.3h0M379.0 391.1h0M379.6 391.3h0M380.1 391.2h0M380.6 391.3h0M381.2 391.2h0M381.7 391.3h0M382.2 391.4h0M382.7 391.4h0M383.3 391.2h0M383.8 391.2h0M384.3 391.4h0M384.9 391.3h0M385.4 391.2h0M385.9 391.1h0M386.5 391.3h0M387.0 391.2h0M387.5 391.0h0M388.0 391.1h0M388.6 391.0h0M389.1 391.0h0M389.6 390.9h0M390.2 390.7h0M390.7 390.5h0M391.2 390.5h0M391.7 390.2h0M392.3 389.8h0M392.8 389.6h0M393.3 389.2h0M393.9 389.0h0M394.4 388.3h0M394.9 388.0h0M395.4 386.6h0M396.0 386.6h0M396.5 385.8h0M397.0 384.8h0M397.6 383.7h0M398.1 382.4h0M398.6 381.0h0M399.1 379.4h0M399.7 377.6h0M400.2 375.1h0M400.7 373.5h0M401.3 370.6h0M401.8 368.6h0M402.3 365.7h0M402.9 362.6h0M403.4 358.7h0M403.9 355.7h0M404.4 351.9h0M405.0 347.6h0M405.5 343.2h0M406.0 338.7h0M406.6 334.0h0M407.1 329.2h0M407.6 324.1h0M408.1 318.9h0M408.7 313.7h0M409.2 308.1h0M409.7 302.7h0M410.3 297.1h0M410.8 291.2h0M411.3 285.7h0M411.8 280.4h0M412.4 274.9h0M412.9 269.3h0M413.4 264.1h0M414.0 258.9h0M414.5 254.1h0M415.0 249.4h0M415.6 244.9h0M416.1 240.9h0M416.6 237.3h0M417.1 233.9h0M417.7 231.0h0M418.2 228.6h0M418.7 226.8h0M419.3 225.7h0M419.8 225.2h0M420.3 225.6h0M420.8 226.3h0M421.4 228.0h0M421.9 230.6h0M422.4 233.4h0M423.0 237.6h0M423.5 242.5h0M424.0 248.1h0M424.5 254.3h0M425.1 261.0h0M425.6 267.9h0M426.1 274.6h0M426.7 281.7h0M427.2 288.7h0M427.7 295.1h0M428.2 301.3h0M428.8 307.1h0M429.3 312.4h0M429.8 317.2h0M430.4 321.8h0M430.9 325.6h0M431.4 329.3h0M432.0 332.4h0M432.5 335.5h0M433.0 338.4h0M433.5 340.8h0M434.1 343.0h0M434.6 345.1h0M435.1 347.4h0M435.7 349.5h0M436.2 351.7h0M436.7 353.7h0M437.2 355.8h0M437.8 357.9h0M438.3 359.7h0M438.8 362.1h0M439.4 364.0h0M439.9 365.9h0M440.4 367.9h0M440.9 369.7h0M441.5 371.8h0M442.0 373.4h0M442.5 375.2h0M443.1 376.8h0M443.6 378.3h0M444.1 379.8h0M444.7 381.0h0M445.2 382.4h0M445.7 383.5h0M446.2 384.3h0M446.8 385.2h0M447.3 385.9h0M447.8 387.0h0M448.4 387.7h0M448.9 387.9h0M449.4 388.8h0M449.9 389.2h0M450.5 389.4h0M451.0 389.8h0M451.5 390.2h0M452.1 390.4h0M452.6 390.6h0M453.1 390.5h0M453.6 391.0h0M454.2 390.9h0M454.7 391.1h0M455.2 391.2h0M455.8 391.3h0M456.3 391.1h0M456.8 391.2h0M457.3 390.9h0M457.9 391.3h0M458.4 391.4h0M458.9 391.2h0M459.5 391.2h0M460.0 391.2h0M460.5 391.5h0M461.1 391.1h0M461.6 391.2h0M462.1 391.3h0M462.6 391.4h0M463.2 391.2h0M463.7 391.4h0M464.2 391.3h0M464.8 390.9h0M465.3 391.2h0M465.8 391.4h0M466.3 391.3h0M466.9 391.2h0M467.4 391.3h0M467.9 391.3h0M468.5 391.3h0M469.0 391.2h0M469.5 391.4h0M470.0 391.3h0M470.6 391.1h0M471.1 391.3h0M471.6 391.4h0M472.2 391.4h0M472.7 391.3h0M473.2 391.4h0M473.8 391.5h0M474.3 391.4h0M474.8 391.4h0M475.3 391.2h0M475.9 391.5h0M476.4 391.1h0M476.9 391.4h0M477.5 391.3h0M478.0 391.2h0M478.5 391.3h0M479.0 391.2h0M479.6 391.4h0M480.1 391.3h0M480.6 391.3h0M481.2 391.5h0M481.7 391.4h0M482.2 391.2h0M482.7 391.3h0M483.3 391.4h0M483.8 391.4h0M484.3 391.3h0M484.9 391.3h0M485.4 391.5h0M485.9 391.3h0M486.4 391.4h0M487.0 391.3h0M487.5 391.4h0M488.0 391.2h0M488.6 391.2h0M489.1 391.1h0M489.6 391.3h0M490.2 391.3h0M490.7 391.2h0M491.2 391.2h0M491.7 391.3h0M492.3 391.3h0M492.8 391.1h0M493.3 391.3h0M493.9 391.3h0M494.4 391.4h0M494.9 391.2h0M495.4 391.4h0M496.0 391.0h0M496.5 391.4h0M497.0 391.3h0M497.6 391.2h0M498.1 391.1h0M498.6 391.4h0M499.1 391.3h0M499.7 390.9h0M500.2 391.2h0M500.7 391.3h0M501.3 391.2h0M501.8 391.5h0M502.3 391.1h0M502.9 391.3h0M503.4 391.4h0M503.9 391.2h0M504.4 391.4h0M505.0 391.4h0M505.5 391.2h0M506.0 391.3h0M506.6 391.3h0M507.1 391.3h0M507.6 391.4h0M508.1 391.4h0M508.7 391.2h0M509.2 391.2h0M509.7 391.3h0M510.3 391.3h0M510.8 391.3h0M511.3 391.3h0M511.8 391.4h0M512.4 391.1h0M512.9 391.4h0M513.4 391.3h0M514.0 391.3h0M514.5 391.4h0M515.0 391.1h0M515.5 391.3h0M516.1 391.4h0M516.6 391.3h0M517.1 391.4h0" stroke="#111" stroke-width="2.3" stroke-linecap="round" fill="none"/>
<line x1="305.5" y1="220.6" x2="538.3" y2="220.6" stroke="#555" stroke-width="1.2"/>
<line x1="538.3" y1="220.6" x2="538.3" y2="391.5" stroke="#333" stroke-width="1.1"/>
<line x1="305.5" y1="220.6" x2="305.5" y2="392.0" stroke="#7a7a7a" stroke-width="1.1"/>
<line x1="305.5" y1="391.5" x2="538.3" y2="391.5" stroke="#7a7a7a" stroke-width="1.2"/>
<path d="M305.5 391.5v-4.0M316.1 391.5v-2.0M326.7 391.5v-4.0M337.2 391.5v-2.0M347.8 391.5v-4.0M358.4 391.5v-2.0M369.0 391.5v-4.0M379.6 391.5v-2.0M390.2 391.5v-4.0M400.7 391.5v-2.0M411.3 391.5v-4.0M421.9 391.5v-2.0M432.5 391.5v-4.0M443.1 391.5v-2.0M453.6 391.5v-4.0M464.2 391.5v-2.0M474.8 391.5v-4.0M485.4 391.5v-2.0M496.0 391.5v-4.0M506.6 391.5v-2.0M517.1 391.5v-4.0M527.7 391.5v-2.0M538.3 391.5v-4.0M305.5 367.1h2.0M305.5 342.6h3.5M305.5 318.2h2.0M305.5 293.8h3.5M305.5 269.3h2.0M305.5 244.9h3.5" stroke="#7a7a7a" stroke-width="0.9" fill="none"/>
<text x="305.5" y="401.3" font-size="7.4" font-weight="bold" text-anchor="middle">520</text>
<text x="326.7" y="401.3" font-size="7.4" font-weight="bold" text-anchor="middle">522</text>
<text x="347.8" y="401.3" font-size="7.4" font-weight="bold" text-anchor="middle">524</text>
<text x="369.0" y="401.3" font-size="7.4" font-weight="bold" text-anchor="middle">526</text>
<text x="390.2" y="401.3" font-size="7.4" font-weight="bold" text-anchor="middle">528</text>
<text x="411.3" y="401.3" font-size="7.4" font-weight="bold" text-anchor="middle">530</text>
<text x="432.5" y="401.3" font-size="7.4" font-weight="bold" text-anchor="middle">532</text>
<text x="453.6" y="401.3" font-size="7.4" font-weight="bold" text-anchor="middle">534</text>
<text x="474.8" y="401.3" font-size="7.4" font-weight="bold" text-anchor="middle">536</text>
<text x="496.0" y="401.3" font-size="7.4" font-weight="bold" text-anchor="middle">538</text>
<text x="517.1" y="401.3" font-size="7.4" font-weight="bold" text-anchor="middle">540</text>
<text x="538.3" y="401.3" font-size="7.4" font-weight="bold" text-anchor="middle">542</text>
<text x="422.2" y="417.4" font-size="9.2" font-weight="bold" text-anchor="middle">Binding energy (eV)</text>
<text transform="translate(297.0 312.8) rotate(-90)" font-size="9.2" font-weight="bold" text-anchor="middle">Intensity (cps)</text>
<text x="288.7" y="228.8" font-size="9.2" font-weight="bold">(f)</text>
<text x="307.3" y="230.2" font-size="9.2" font-weight="bold">800 °C</text>
<circle cx="442.8" cy="229.3" r="1.2" fill="#111"/>
<text x="456.2" y="232.5" font-size="9.2" font-weight="bold">Raw data</text>
<line x1="431.9" y1="241.3" x2="453.4" y2="241.3" stroke="#ee8f98" stroke-width="1.3"/>
<text x="456.2" y="244.0" font-size="9.2" font-weight="bold">Fitted curve</text>
<text x="377.6" y="316.5" font-size="9.8" font-weight="bold">O</text>
<text x="385.5" y="319.4" font-size="4.8" font-weight="bold" fill="#666" style="stroke:#666;stroke-width:0.2px">I</text>
<line x1="387.1" y1="317.7" x2="409.4" y2="335.4" stroke="#222" stroke-width="1.15"/>
<path d="M413.0,338.3 L408.5,336.6 L410.3,334.3 Z" fill="#111"/>
<text x="442.2" y="342.8" font-size="9.8" font-weight="bold">O</text>
<text x="450.1" y="345.7" font-size="4.8" font-weight="bold" fill="#666" style="stroke:#666;stroke-width:0.2px">II</text>
<line x1="444.0" y1="345.6" x2="424.8" y2="371.7" stroke="#222" stroke-width="1.15"/>
<path d="M422.1,375.4 L423.6,370.8 L426.0,372.6 Z" fill="#111"/>
<text x="458.7" y="368.3" font-size="9.8" font-weight="bold">O</text>
<text x="466.6" y="371.2" font-size="4.8" font-weight="bold" fill="#666" style="stroke:#666;stroke-width:0.2px">III</text>
<line x1="458.2" y1="368.3" x2="442.2" y2="379.2" stroke="#222" stroke-width="1.15"/>
<path d="M438.4,381.8 L441.4,378.0 L443.0,380.4 Z" fill="#111"/>
</svg>
</body></html>
